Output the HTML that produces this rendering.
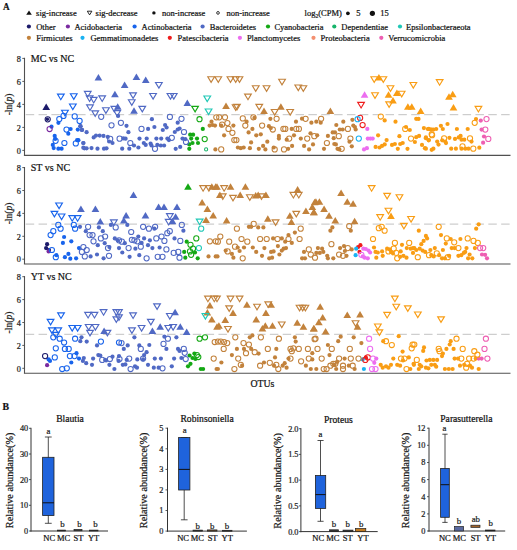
<!DOCTYPE html>
<html><head><meta charset="utf-8"><style>
html,body{margin:0;padding:0;background:#fff;}
body{width:517px;height:550px;overflow:hidden;font-family:"Liberation Serif",serif;}
svg{display:block;}
</style></head><body>
<svg width="517" height="550" viewBox="0 0 517 550">
<rect width="517" height="550" fill="#fff"/>
<g transform="translate(3.1 9.80) scale(1 1.07)"><text x="0" y="0" font-family="Liberation Serif, serif" font-size="9.2" fill="#111" stroke="#111" stroke-width="0.22" font-weight="bold">A</text></g>
<path d="M29.0 10.4L31.8 14.7L26.2 14.7Z" fill="#111"/>
<g transform="translate(36.1 16.00) scale(1 1.07)"><text x="0" y="0" font-family="Liberation Serif, serif" font-size="8.5" fill="#111" stroke="#111" stroke-width="0.22" >sig-increase</text></g>
<path d="M87.3 11.2L91.9 11.2L89.6 14.9Z" fill="none" stroke="#111" stroke-width="0.9"/>
<g transform="translate(95.6 16.00) scale(1 1.07)"><text x="0" y="0" font-family="Liberation Serif, serif" font-size="8.5" fill="#111" stroke="#111" stroke-width="0.22" >sig-decrease</text></g>
<circle cx="153.9" cy="12.9" r="1.7" fill="#111"/>
<g transform="translate(162.0 16.00) scale(1 1.07)"><text x="0" y="0" font-family="Liberation Serif, serif" font-size="8.5" fill="#111" stroke="#111" stroke-width="0.22" >non-increase</text></g>
<circle cx="218.0" cy="12.9" r="1.35" fill="none" stroke="#111" stroke-width="0.85"/>
<g transform="translate(226.4 16.00) scale(1 1.07)"><text x="0" y="0" font-family="Liberation Serif, serif" font-size="8.5" fill="#111" stroke="#111" stroke-width="0.22" >non-increase</text></g>
<g transform="translate(304.6 16.00) scale(1 1.07)"><text x="0" y="0" font-family="Liberation Serif, serif" font-size="8.5" fill="#111" stroke="#111" stroke-width="0.22" >log<tspan font-size="5.6" dy="2.2">2</tspan><tspan dy="-2.2">(CPM)</tspan></text></g>
<circle cx="347.9" cy="13.3" r="1.85" fill="#111"/>
<g transform="translate(356.3 16.00) scale(1 1.07)"><text x="0" y="0" font-family="Liberation Serif, serif" font-size="8.5" fill="#111" stroke="#111" stroke-width="0.22" >5</text></g>
<circle cx="372.4" cy="13.3" r="2.6" fill="#111"/>
<g transform="translate(380.2 16.00) scale(1 1.07)"><text x="0" y="0" font-family="Liberation Serif, serif" font-size="8.5" fill="#111" stroke="#111" stroke-width="0.22" >15</text></g>
<circle cx="28.9" cy="26.5" r="2.1" fill="#1c1a6a"/>
<g transform="translate(36.2 29.60) scale(1 1.07)"><text x="0" y="0" font-family="Liberation Serif, serif" font-size="8.5" fill="#111" stroke="#111" stroke-width="0.22" >Other</text></g>
<circle cx="67.9" cy="26.5" r="2.1" fill="#7a2aa0"/>
<g transform="translate(74.4 29.60) scale(1 1.07)"><text x="0" y="0" font-family="Liberation Serif, serif" font-size="8.5" fill="#111" stroke="#111" stroke-width="0.22" >Acidobacteria</text></g>
<circle cx="134.6" cy="26.5" r="2.1" fill="#1864ec"/>
<g transform="translate(141.6 29.60) scale(1 1.07)"><text x="0" y="0" font-family="Liberation Serif, serif" font-size="8.5" fill="#111" stroke="#111" stroke-width="0.22" >Actinobacteria</text></g>
<circle cx="202.6" cy="26.5" r="2.1" fill="#5069c4"/>
<g transform="translate(209.8 29.60) scale(1 1.07)"><text x="0" y="0" font-family="Liberation Serif, serif" font-size="8.5" fill="#111" stroke="#111" stroke-width="0.22" >Bacteroidetes</text></g>
<circle cx="268.0" cy="26.5" r="2.1" fill="#14a814"/>
<g transform="translate(274.4 29.60) scale(1 1.07)"><text x="0" y="0" font-family="Liberation Serif, serif" font-size="8.5" fill="#111" stroke="#111" stroke-width="0.22" >Cyanobacteria</text></g>
<circle cx="334.3" cy="26.5" r="2.1" fill="#16b46a"/>
<g transform="translate(341.3 29.60) scale(1 1.07)"><text x="0" y="0" font-family="Liberation Serif, serif" font-size="8.5" fill="#111" stroke="#111" stroke-width="0.22" >Dependentiae</text></g>
<circle cx="400.0" cy="26.5" r="2.1" fill="#20c8b6"/>
<g transform="translate(406.0 29.60) scale(1 1.07)"><text x="0" y="0" font-family="Liberation Serif, serif" font-size="8.5" fill="#111" stroke="#111" stroke-width="0.22" >Epsilonbacteraeota</text></g>
<circle cx="28.9" cy="37.8" r="2.1" fill="#c2823c"/>
<g transform="translate(36.2 40.90) scale(1 1.07)"><text x="0" y="0" font-family="Liberation Serif, serif" font-size="8.5" fill="#111" stroke="#111" stroke-width="0.22" >Firmicutes</text></g>
<circle cx="82.5" cy="37.8" r="2.1" fill="#1ab2f2"/>
<g transform="translate(90.4 40.90) scale(1 1.07)"><text x="0" y="0" font-family="Liberation Serif, serif" font-size="8.5" fill="#111" stroke="#111" stroke-width="0.22" >Gemmatimonadetes</text></g>
<circle cx="169.8" cy="37.8" r="2.1" fill="#ee1c1c"/>
<g transform="translate(177.6 40.90) scale(1 1.07)"><text x="0" y="0" font-family="Liberation Serif, serif" font-size="8.5" fill="#111" stroke="#111" stroke-width="0.22" >Patescibacteria</text></g>
<circle cx="239.9" cy="37.8" r="2.1" fill="#ec6ef0"/>
<g transform="translate(246.9 40.90) scale(1 1.07)"><text x="0" y="0" font-family="Liberation Serif, serif" font-size="8.5" fill="#111" stroke="#111" stroke-width="0.22" >Planctomycetes</text></g>
<circle cx="313.5" cy="37.8" r="2.1" fill="#f49070"/>
<g transform="translate(320.6 40.90) scale(1 1.07)"><text x="0" y="0" font-family="Liberation Serif, serif" font-size="8.5" fill="#111" stroke="#111" stroke-width="0.22" >Proteobacteria</text></g>
<circle cx="381.3" cy="37.8" r="2.1" fill="#ee5fb2"/>
<g transform="translate(388.2 40.90) scale(1 1.07)"><text x="0" y="0" font-family="Liberation Serif, serif" font-size="8.5" fill="#111" stroke="#111" stroke-width="0.22" >Verrucomicrobia</text></g>
<line x1="24.5" y1="57.8" x2="24.5" y2="155.4" stroke="#505050" stroke-width="1.1"/>
<line x1="23.9" y1="155.4" x2="510.5" y2="155.4" stroke="#505050" stroke-width="1.1"/>
<line x1="22.3" y1="150.4" x2="24.5" y2="150.4" stroke="#4a4a4a" stroke-width="0.9"/>
<text x="20.9" y="153.6" font-family="Liberation Serif, serif" font-size="8.3" fill="#1a1a1a" stroke="#1a1a1a" stroke-width="0.22" text-anchor="end">0</text>
<line x1="22.3" y1="127.4" x2="24.5" y2="127.4" stroke="#4a4a4a" stroke-width="0.9"/>
<text x="20.9" y="130.6" font-family="Liberation Serif, serif" font-size="8.3" fill="#1a1a1a" stroke="#1a1a1a" stroke-width="0.22" text-anchor="end">2</text>
<line x1="22.3" y1="104.4" x2="24.5" y2="104.4" stroke="#4a4a4a" stroke-width="0.9"/>
<text x="20.9" y="107.6" font-family="Liberation Serif, serif" font-size="8.3" fill="#1a1a1a" stroke="#1a1a1a" stroke-width="0.22" text-anchor="end">4</text>
<line x1="22.3" y1="81.4" x2="24.5" y2="81.4" stroke="#4a4a4a" stroke-width="0.9"/>
<text x="20.9" y="84.6" font-family="Liberation Serif, serif" font-size="8.3" fill="#1a1a1a" stroke="#1a1a1a" stroke-width="0.22" text-anchor="end">6</text>
<line x1="22.3" y1="58.4" x2="24.5" y2="58.4" stroke="#4a4a4a" stroke-width="0.9"/>
<text x="20.9" y="61.6" font-family="Liberation Serif, serif" font-size="8.3" fill="#1a1a1a" stroke="#1a1a1a" stroke-width="0.22" text-anchor="end">8</text>
<line x1="25.7" y1="114.7" x2="510" y2="114.7" stroke="#c2c2c2" stroke-width="1.0" stroke-dasharray="8.5,4.35"/>
<text x="30.8" y="61.9" font-family="Liberation Serif, serif" font-size="10" fill="#111" stroke="#111" stroke-width="0.22">MC vs NC</text>
<text transform="translate(12.2 104.4) rotate(-90)" font-family="Liberation Serif, serif" font-size="9.6" fill="#222" stroke="#222" stroke-width="0.22" text-anchor="middle">-ln(<tspan font-style="italic">p</tspan>)</text>
<line x1="24.5" y1="167.0" x2="24.5" y2="264.0" stroke="#505050" stroke-width="1.1"/>
<line x1="23.9" y1="264.0" x2="510.5" y2="264.0" stroke="#505050" stroke-width="1.1"/>
<line x1="22.3" y1="259.2" x2="24.5" y2="259.2" stroke="#4a4a4a" stroke-width="0.9"/>
<text x="20.9" y="262.4" font-family="Liberation Serif, serif" font-size="8.3" fill="#1a1a1a" stroke="#1a1a1a" stroke-width="0.22" text-anchor="end">0</text>
<line x1="22.3" y1="236.3" x2="24.5" y2="236.3" stroke="#4a4a4a" stroke-width="0.9"/>
<text x="20.9" y="239.5" font-family="Liberation Serif, serif" font-size="8.3" fill="#1a1a1a" stroke="#1a1a1a" stroke-width="0.22" text-anchor="end">2</text>
<line x1="22.3" y1="213.4" x2="24.5" y2="213.4" stroke="#4a4a4a" stroke-width="0.9"/>
<text x="20.9" y="216.6" font-family="Liberation Serif, serif" font-size="8.3" fill="#1a1a1a" stroke="#1a1a1a" stroke-width="0.22" text-anchor="end">4</text>
<line x1="22.3" y1="190.5" x2="24.5" y2="190.5" stroke="#4a4a4a" stroke-width="0.9"/>
<text x="20.9" y="193.7" font-family="Liberation Serif, serif" font-size="8.3" fill="#1a1a1a" stroke="#1a1a1a" stroke-width="0.22" text-anchor="end">6</text>
<line x1="22.3" y1="167.6" x2="24.5" y2="167.6" stroke="#4a4a4a" stroke-width="0.9"/>
<text x="20.9" y="170.8" font-family="Liberation Serif, serif" font-size="8.3" fill="#1a1a1a" stroke="#1a1a1a" stroke-width="0.22" text-anchor="end">8</text>
<line x1="25.7" y1="224.1" x2="510" y2="224.1" stroke="#c2c2c2" stroke-width="1.0" stroke-dasharray="8.5,4.35"/>
<text x="30.8" y="171.1" font-family="Liberation Serif, serif" font-size="10" fill="#111" stroke="#111" stroke-width="0.22">ST vs NC</text>
<text transform="translate(12.2 213.4) rotate(-90)" font-family="Liberation Serif, serif" font-size="9.6" fill="#222" stroke="#222" stroke-width="0.22" text-anchor="middle">-ln(<tspan font-style="italic">p</tspan>)</text>
<line x1="24.5" y1="276.1" x2="24.5" y2="373.3" stroke="#505050" stroke-width="1.1"/>
<line x1="23.9" y1="373.3" x2="510.5" y2="373.3" stroke="#505050" stroke-width="1.1"/>
<line x1="22.3" y1="368.3" x2="24.5" y2="368.3" stroke="#4a4a4a" stroke-width="0.9"/>
<text x="20.9" y="371.5" font-family="Liberation Serif, serif" font-size="8.3" fill="#1a1a1a" stroke="#1a1a1a" stroke-width="0.22" text-anchor="end">0</text>
<line x1="22.3" y1="345.4" x2="24.5" y2="345.4" stroke="#4a4a4a" stroke-width="0.9"/>
<text x="20.9" y="348.6" font-family="Liberation Serif, serif" font-size="8.3" fill="#1a1a1a" stroke="#1a1a1a" stroke-width="0.22" text-anchor="end">2</text>
<line x1="22.3" y1="322.5" x2="24.5" y2="322.5" stroke="#4a4a4a" stroke-width="0.9"/>
<text x="20.9" y="325.7" font-family="Liberation Serif, serif" font-size="8.3" fill="#1a1a1a" stroke="#1a1a1a" stroke-width="0.22" text-anchor="end">4</text>
<line x1="22.3" y1="299.6" x2="24.5" y2="299.6" stroke="#4a4a4a" stroke-width="0.9"/>
<text x="20.9" y="302.8" font-family="Liberation Serif, serif" font-size="8.3" fill="#1a1a1a" stroke="#1a1a1a" stroke-width="0.22" text-anchor="end">6</text>
<line x1="22.3" y1="276.7" x2="24.5" y2="276.7" stroke="#4a4a4a" stroke-width="0.9"/>
<text x="20.9" y="279.9" font-family="Liberation Serif, serif" font-size="8.3" fill="#1a1a1a" stroke="#1a1a1a" stroke-width="0.22" text-anchor="end">8</text>
<line x1="25.7" y1="334.3" x2="510" y2="334.3" stroke="#c2c2c2" stroke-width="1.0" stroke-dasharray="8.5,4.35"/>
<text x="30.8" y="280.2" font-family="Liberation Serif, serif" font-size="10" fill="#111" stroke="#111" stroke-width="0.22">YT vs NC</text>
<text transform="translate(12.2 322.5) rotate(-90)" font-family="Liberation Serif, serif" font-size="9.6" fill="#222" stroke="#222" stroke-width="0.22" text-anchor="middle">-ln(<tspan font-style="italic">p</tspan>)</text>
<g>
<circle cx="47.4" cy="119.3" r="1.68" fill="#1c1a6a"/>
<circle cx="51.5" cy="126.7" r="2.10" fill="#1864ec"/>
<circle cx="58.4" cy="122.8" r="2.10" fill="#1864ec"/>
<circle cx="70.6" cy="129.0" r="2.10" fill="#1864ec"/>
<circle cx="68.3" cy="133.7" r="2.10" fill="#1864ec"/>
<circle cx="54.7" cy="135.9" r="2.10" fill="#1864ec"/>
<circle cx="55.2" cy="138.9" r="2.10" fill="#1864ec"/>
<circle cx="77.1" cy="140.2" r="2.10" fill="#1864ec"/>
<circle cx="52.8" cy="144.9" r="2.10" fill="#1864ec"/>
<circle cx="53.7" cy="148.1" r="2.10" fill="#1864ec"/>
<circle cx="58.4" cy="148.7" r="2.10" fill="#1864ec"/>
<circle cx="61.6" cy="148.7" r="2.10" fill="#1864ec"/>
<circle cx="80.3" cy="126.2" r="2.10" fill="#5069c4"/>
<circle cx="81.8" cy="129.9" r="2.10" fill="#5069c4"/>
<circle cx="83.3" cy="143.0" r="2.10" fill="#5069c4"/>
<circle cx="83.3" cy="147.7" r="2.10" fill="#5069c4"/>
<circle cx="80.6" cy="126.2" r="2.10" fill="#5069c4"/>
<circle cx="82.1" cy="129.9" r="2.10" fill="#5069c4"/>
<circle cx="86.6" cy="132.2" r="2.10" fill="#5069c4"/>
<circle cx="93.7" cy="137.4" r="2.10" fill="#5069c4"/>
<circle cx="96.0" cy="135.6" r="2.10" fill="#5069c4"/>
<circle cx="99.7" cy="135.6" r="2.10" fill="#5069c4"/>
<circle cx="103.5" cy="135.9" r="2.10" fill="#5069c4"/>
<circle cx="107.8" cy="136.9" r="2.10" fill="#5069c4"/>
<circle cx="109.1" cy="141.5" r="2.10" fill="#5069c4"/>
<circle cx="112.5" cy="143.0" r="2.10" fill="#5069c4"/>
<circle cx="83.4" cy="143.0" r="2.10" fill="#5069c4"/>
<circle cx="84.4" cy="148.3" r="2.10" fill="#5069c4"/>
<circle cx="86.6" cy="148.3" r="2.10" fill="#5069c4"/>
<circle cx="91.5" cy="148.1" r="2.10" fill="#5069c4"/>
<circle cx="97.5" cy="148.7" r="2.10" fill="#5069c4"/>
<circle cx="104.0" cy="148.7" r="2.10" fill="#5069c4"/>
<circle cx="106.5" cy="148.3" r="2.10" fill="#5069c4"/>
<circle cx="126.5" cy="125.8" r="2.10" fill="#5069c4"/>
<circle cx="128.4" cy="132.2" r="2.10" fill="#5069c4"/>
<circle cx="123.3" cy="138.4" r="2.10" fill="#5069c4"/>
<circle cx="125.6" cy="138.7" r="2.10" fill="#5069c4"/>
<circle cx="122.2" cy="148.7" r="2.10" fill="#5069c4"/>
<circle cx="129.3" cy="148.7" r="2.10" fill="#5069c4"/>
<circle cx="134.0" cy="145.5" r="2.10" fill="#5069c4"/>
<circle cx="118.1" cy="115.9" r="2.10" fill="#5069c4"/>
<circle cx="77.8" cy="129.6" r="2.10" fill="#1864ec"/>
<circle cx="78.4" cy="140.2" r="2.10" fill="#1864ec"/>
<circle cx="151.9" cy="119.2" r="2.10" fill="#5069c4"/>
<circle cx="148.1" cy="128.9" r="2.10" fill="#5069c4"/>
<circle cx="154.4" cy="127.0" r="2.10" fill="#5069c4"/>
<circle cx="165.1" cy="125.0" r="2.10" fill="#5069c4"/>
<circle cx="166.6" cy="127.5" r="2.10" fill="#5069c4"/>
<circle cx="162.8" cy="130.0" r="2.10" fill="#5069c4"/>
<circle cx="174.8" cy="132.0" r="2.10" fill="#5069c4"/>
<circle cx="177.7" cy="129.5" r="2.10" fill="#5069c4"/>
<circle cx="179.6" cy="128.5" r="2.10" fill="#5069c4"/>
<circle cx="177.7" cy="122.7" r="2.10" fill="#5069c4"/>
<circle cx="139.5" cy="138.6" r="2.10" fill="#5069c4"/>
<circle cx="146.7" cy="138.6" r="2.10" fill="#5069c4"/>
<circle cx="156.4" cy="138.6" r="2.10" fill="#5069c4"/>
<circle cx="161.2" cy="138.6" r="2.10" fill="#5069c4"/>
<circle cx="167.4" cy="138.6" r="2.10" fill="#5069c4"/>
<circle cx="168.9" cy="140.1" r="2.10" fill="#5069c4"/>
<circle cx="182.5" cy="138.6" r="2.10" fill="#5069c4"/>
<circle cx="185.4" cy="139.1" r="2.10" fill="#5069c4"/>
<circle cx="143.8" cy="143.0" r="2.10" fill="#5069c4"/>
<circle cx="145.7" cy="144.9" r="2.10" fill="#5069c4"/>
<circle cx="150.6" cy="143.6" r="2.10" fill="#5069c4"/>
<circle cx="151.5" cy="145.5" r="2.10" fill="#5069c4"/>
<circle cx="157.3" cy="144.9" r="2.10" fill="#5069c4"/>
<circle cx="160.8" cy="145.5" r="2.10" fill="#5069c4"/>
<circle cx="164.1" cy="145.5" r="2.10" fill="#5069c4"/>
<circle cx="175.7" cy="148.8" r="2.10" fill="#5069c4"/>
<circle cx="180.2" cy="146.9" r="2.10" fill="#5069c4"/>
<circle cx="138.4" cy="147.5" r="2.10" fill="#5069c4"/>
<circle cx="202.8" cy="128.9" r="2.10" fill="#14a814"/>
<circle cx="190.2" cy="134.7" r="2.10" fill="#14a814"/>
<circle cx="193.1" cy="134.7" r="2.10" fill="#14a814"/>
<circle cx="197.0" cy="138.6" r="2.10" fill="#14a814"/>
<circle cx="191.2" cy="138.6" r="2.10" fill="#14a814"/>
<circle cx="189.3" cy="144.4" r="2.10" fill="#14a814"/>
<circle cx="192.5" cy="143.0" r="2.10" fill="#14a814"/>
<circle cx="198.0" cy="143.0" r="2.10" fill="#14a814"/>
<circle cx="189.3" cy="148.8" r="2.10" fill="#14a814"/>
<circle cx="211.5" cy="121.7" r="2.10" fill="#c2823c"/>
<circle cx="209.6" cy="125.6" r="2.10" fill="#c2823c"/>
<circle cx="212.5" cy="125.0" r="2.10" fill="#c2823c"/>
<circle cx="215.0" cy="125.6" r="2.10" fill="#c2823c"/>
<circle cx="221.2" cy="125.6" r="2.10" fill="#c2823c"/>
<circle cx="233.4" cy="125.6" r="2.10" fill="#c2823c"/>
<circle cx="224.1" cy="135.3" r="2.10" fill="#c2823c"/>
<circle cx="215.4" cy="149.4" r="2.10" fill="#c2823c"/>
<circle cx="246.6" cy="121.7" r="2.10" fill="#c2823c"/>
<circle cx="254.4" cy="117.9" r="2.10" fill="#c2823c"/>
<circle cx="270.4" cy="118.8" r="2.10" fill="#c2823c"/>
<circle cx="252.4" cy="128.9" r="2.10" fill="#c2823c"/>
<circle cx="248.6" cy="132.4" r="2.10" fill="#c2823c"/>
<circle cx="256.3" cy="135.3" r="2.10" fill="#c2823c"/>
<circle cx="260.8" cy="134.3" r="2.10" fill="#c2823c"/>
<circle cx="268.9" cy="126.2" r="2.10" fill="#c2823c"/>
<circle cx="270.8" cy="128.1" r="2.10" fill="#c2823c"/>
<circle cx="291.7" cy="128.9" r="2.10" fill="#c2823c"/>
<circle cx="296.0" cy="121.7" r="2.10" fill="#c2823c"/>
<circle cx="311.4" cy="122.7" r="2.10" fill="#c2823c"/>
<circle cx="316.3" cy="121.7" r="2.10" fill="#c2823c"/>
<circle cx="320.7" cy="122.7" r="2.10" fill="#c2823c"/>
<circle cx="278.9" cy="135.9" r="2.10" fill="#c2823c"/>
<circle cx="278.9" cy="138.6" r="2.10" fill="#c2823c"/>
<circle cx="286.7" cy="139.7" r="2.10" fill="#c2823c"/>
<circle cx="294.0" cy="135.3" r="2.10" fill="#c2823c"/>
<circle cx="300.8" cy="138.6" r="2.10" fill="#c2823c"/>
<circle cx="310.5" cy="133.3" r="2.10" fill="#c2823c"/>
<circle cx="317.2" cy="135.3" r="2.10" fill="#c2823c"/>
<circle cx="327.9" cy="135.9" r="2.10" fill="#c2823c"/>
<circle cx="332.7" cy="132.4" r="2.10" fill="#c2823c"/>
<circle cx="333.7" cy="138.2" r="2.10" fill="#c2823c"/>
<circle cx="267.3" cy="141.7" r="2.10" fill="#c2823c"/>
<circle cx="251.1" cy="142.4" r="2.10" fill="#c2823c"/>
<circle cx="237.9" cy="147.5" r="2.10" fill="#c2823c"/>
<circle cx="240.8" cy="148.2" r="2.10" fill="#c2823c"/>
<circle cx="243.7" cy="147.5" r="2.10" fill="#c2823c"/>
<circle cx="249.9" cy="148.2" r="2.10" fill="#c2823c"/>
<circle cx="258.8" cy="148.8" r="2.10" fill="#c2823c"/>
<circle cx="263.1" cy="145.9" r="2.10" fill="#c2823c"/>
<circle cx="265.4" cy="149.4" r="2.10" fill="#c2823c"/>
<circle cx="273.7" cy="147.5" r="2.10" fill="#c2823c"/>
<circle cx="288.2" cy="148.8" r="2.10" fill="#c2823c"/>
<circle cx="292.1" cy="145.9" r="2.10" fill="#c2823c"/>
<circle cx="304.1" cy="145.9" r="2.10" fill="#c2823c"/>
<circle cx="309.1" cy="149.4" r="2.10" fill="#c2823c"/>
<circle cx="313.0" cy="144.4" r="2.10" fill="#c2823c"/>
<circle cx="324.0" cy="148.8" r="2.10" fill="#c2823c"/>
<circle cx="334.3" cy="144.0" r="2.10" fill="#c2823c"/>
<circle cx="367.3" cy="128.9" r="2.10" fill="#ec6ef0"/>
<circle cx="367.8" cy="138.6" r="2.10" fill="#ec6ef0"/>
<circle cx="370.4" cy="138.6" r="2.10" fill="#ec6ef0"/>
<circle cx="372.7" cy="138.6" r="2.10" fill="#ec6ef0"/>
<circle cx="364.0" cy="149.4" r="2.10" fill="#ec6ef0"/>
<circle cx="366.9" cy="148.2" r="2.10" fill="#ec6ef0"/>
<circle cx="384.7" cy="120.4" r="2.10" fill="#f99d14"/>
<circle cx="395.5" cy="121.7" r="2.10" fill="#f99d14"/>
<circle cx="416.2" cy="118.8" r="2.10" fill="#f99d14"/>
<circle cx="378.1" cy="135.3" r="2.10" fill="#f99d14"/>
<circle cx="399.4" cy="136.2" r="2.10" fill="#f99d14"/>
<circle cx="406.0" cy="127.0" r="2.10" fill="#f99d14"/>
<circle cx="409.8" cy="130.0" r="2.10" fill="#f99d14"/>
<circle cx="423.9" cy="128.1" r="2.10" fill="#f99d14"/>
<circle cx="428.8" cy="128.9" r="2.10" fill="#f99d14"/>
<circle cx="431.7" cy="129.5" r="2.10" fill="#f99d14"/>
<circle cx="386.6" cy="140.1" r="2.10" fill="#f99d14"/>
<circle cx="384.7" cy="144.4" r="2.10" fill="#f99d14"/>
<circle cx="382.0" cy="145.9" r="2.10" fill="#f99d14"/>
<circle cx="375.6" cy="146.9" r="2.10" fill="#f99d14"/>
<circle cx="379.5" cy="147.5" r="2.10" fill="#f99d14"/>
<circle cx="392.0" cy="144.9" r="2.10" fill="#f99d14"/>
<circle cx="394.9" cy="144.0" r="2.10" fill="#f99d14"/>
<circle cx="400.2" cy="144.0" r="2.10" fill="#f99d14"/>
<circle cx="402.7" cy="143.0" r="2.10" fill="#f99d14"/>
<circle cx="397.8" cy="148.8" r="2.10" fill="#f99d14"/>
<circle cx="407.5" cy="148.8" r="2.10" fill="#f99d14"/>
<circle cx="419.1" cy="135.9" r="2.10" fill="#f99d14"/>
<circle cx="416.2" cy="137.2" r="2.10" fill="#f99d14"/>
<circle cx="414.9" cy="142.0" r="2.10" fill="#f99d14"/>
<circle cx="425.9" cy="138.2" r="2.10" fill="#f99d14"/>
<circle cx="428.8" cy="140.1" r="2.10" fill="#f99d14"/>
<circle cx="422.0" cy="144.9" r="2.10" fill="#f99d14"/>
<circle cx="424.9" cy="148.2" r="2.10" fill="#f99d14"/>
<circle cx="431.7" cy="149.8" r="2.10" fill="#f99d14"/>
<circle cx="336.3" cy="125.0" r="2.10" fill="#c2823c"/>
<circle cx="343.3" cy="121.7" r="2.10" fill="#c2823c"/>
<circle cx="352.4" cy="119.8" r="2.10" fill="#c2823c"/>
<circle cx="339.8" cy="129.5" r="2.10" fill="#c2823c"/>
<circle cx="342.7" cy="129.5" r="2.10" fill="#c2823c"/>
<circle cx="353.3" cy="125.6" r="2.10" fill="#c2823c"/>
<circle cx="354.9" cy="127.0" r="2.10" fill="#c2823c"/>
<circle cx="355.7" cy="129.5" r="2.10" fill="#c2823c"/>
<circle cx="335.0" cy="132.4" r="2.10" fill="#c2823c"/>
<circle cx="349.5" cy="141.7" r="2.10" fill="#c2823c"/>
<circle cx="351.8" cy="146.3" r="2.10" fill="#c2823c"/>
<circle cx="335.9" cy="144.4" r="2.10" fill="#c2823c"/>
<circle cx="337.5" cy="148.8" r="2.10" fill="#c2823c"/>
<circle cx="339.4" cy="149.4" r="2.10" fill="#c2823c"/>
<circle cx="476.0" cy="119.1" r="2.10" fill="#f99d14"/>
<circle cx="440.9" cy="125.8" r="2.10" fill="#f99d14"/>
<circle cx="447.5" cy="124.0" r="2.10" fill="#f99d14"/>
<circle cx="442.8" cy="129.0" r="2.10" fill="#f99d14"/>
<circle cx="427.8" cy="129.0" r="2.10" fill="#f99d14"/>
<circle cx="430.6" cy="129.6" r="2.10" fill="#f99d14"/>
<circle cx="433.4" cy="129.6" r="2.10" fill="#f99d14"/>
<circle cx="436.2" cy="129.0" r="2.10" fill="#f99d14"/>
<circle cx="456.9" cy="129.0" r="2.10" fill="#f99d14"/>
<circle cx="467.7" cy="129.0" r="2.10" fill="#f99d14"/>
<circle cx="425.9" cy="137.4" r="2.10" fill="#f99d14"/>
<circle cx="428.7" cy="140.3" r="2.10" fill="#f99d14"/>
<circle cx="437.2" cy="141.6" r="2.10" fill="#f99d14"/>
<circle cx="438.5" cy="144.6" r="2.10" fill="#f99d14"/>
<circle cx="442.2" cy="140.3" r="2.10" fill="#f99d14"/>
<circle cx="445.2" cy="141.6" r="2.10" fill="#f99d14"/>
<circle cx="446.0" cy="143.1" r="2.10" fill="#f99d14"/>
<circle cx="449.4" cy="137.8" r="2.10" fill="#f99d14"/>
<circle cx="455.0" cy="138.9" r="2.10" fill="#f99d14"/>
<circle cx="458.7" cy="137.4" r="2.10" fill="#f99d14"/>
<circle cx="460.6" cy="135.9" r="2.10" fill="#f99d14"/>
<circle cx="461.5" cy="139.7" r="2.10" fill="#f99d14"/>
<circle cx="464.3" cy="139.7" r="2.10" fill="#f99d14"/>
<circle cx="471.5" cy="141.6" r="2.10" fill="#f99d14"/>
<circle cx="425.9" cy="148.7" r="2.10" fill="#f99d14"/>
<circle cx="433.4" cy="148.7" r="2.10" fill="#f99d14"/>
<circle cx="451.2" cy="148.7" r="2.10" fill="#f99d14"/>
<circle cx="455.9" cy="148.7" r="2.10" fill="#f99d14"/>
<circle cx="461.5" cy="148.7" r="2.10" fill="#f99d14"/>
<circle cx="465.3" cy="148.7" r="2.10" fill="#f99d14"/>
<circle cx="468.5" cy="148.7" r="2.10" fill="#f99d14"/>
<circle cx="479.3" cy="147.7" r="2.10" fill="#f99d14"/>
<circle cx="480.8" cy="120.6" r="2.10" fill="#ee5fb2"/>
<circle cx="481.6" cy="129.6" r="2.10" fill="#ee5fb2"/>
<circle cx="484.0" cy="136.5" r="2.10" fill="#ee5fb2"/>
<circle cx="483.1" cy="142.7" r="2.10" fill="#ee5fb2"/>
<circle cx="47.1" cy="244.2" r="2.10" fill="#1c1a6a"/>
<circle cx="46.1" cy="248.1" r="2.10" fill="#1c1a6a"/>
<circle cx="49.0" cy="250.0" r="2.10" fill="#1c1a6a"/>
<circle cx="48.6" cy="251.4" r="2.10" fill="#7a2aa0"/>
<circle cx="64.1" cy="237.0" r="2.10" fill="#1864ec"/>
<circle cx="62.9" cy="242.9" r="2.10" fill="#1864ec"/>
<circle cx="71.3" cy="241.3" r="2.10" fill="#1864ec"/>
<circle cx="56.4" cy="255.2" r="2.10" fill="#1864ec"/>
<circle cx="64.9" cy="257.2" r="2.10" fill="#1864ec"/>
<circle cx="68.4" cy="253.9" r="2.10" fill="#1864ec"/>
<circle cx="70.3" cy="258.7" r="2.10" fill="#1864ec"/>
<circle cx="76.1" cy="258.3" r="2.10" fill="#1864ec"/>
<circle cx="79.0" cy="248.1" r="2.10" fill="#1864ec"/>
<circle cx="80.0" cy="226.8" r="2.10" fill="#5069c4"/>
<circle cx="85.8" cy="231.2" r="2.10" fill="#5069c4"/>
<circle cx="98.9" cy="227.4" r="2.10" fill="#5069c4"/>
<circle cx="102.8" cy="231.2" r="2.10" fill="#5069c4"/>
<circle cx="110.9" cy="224.9" r="2.10" fill="#5069c4"/>
<circle cx="97.8" cy="245.2" r="2.10" fill="#5069c4"/>
<circle cx="104.7" cy="243.2" r="2.10" fill="#5069c4"/>
<circle cx="114.8" cy="238.4" r="2.10" fill="#5069c4"/>
<circle cx="117.7" cy="240.3" r="2.10" fill="#5069c4"/>
<circle cx="90.6" cy="256.4" r="2.10" fill="#5069c4"/>
<circle cx="97.0" cy="254.5" r="2.10" fill="#5069c4"/>
<circle cx="103.6" cy="258.3" r="2.10" fill="#5069c4"/>
<circle cx="109.4" cy="247.1" r="2.10" fill="#5069c4"/>
<circle cx="186.7" cy="241.7" r="2.10" fill="#14a814"/>
<circle cx="184.2" cy="251.9" r="2.10" fill="#14a814"/>
<circle cx="195.0" cy="252.5" r="2.10" fill="#14a814"/>
<circle cx="185.3" cy="257.7" r="2.10" fill="#14a814"/>
<circle cx="197.7" cy="258.3" r="2.10" fill="#14a814"/>
<circle cx="208.5" cy="256.4" r="2.10" fill="#c2823c"/>
<circle cx="215.7" cy="256.4" r="2.10" fill="#c2823c"/>
<circle cx="127.3" cy="224.9" r="2.10" fill="#5069c4"/>
<circle cx="154.4" cy="228.7" r="2.10" fill="#5069c4"/>
<circle cx="138.3" cy="236.5" r="2.10" fill="#5069c4"/>
<circle cx="144.1" cy="238.4" r="2.10" fill="#5069c4"/>
<circle cx="149.9" cy="240.3" r="2.10" fill="#5069c4"/>
<circle cx="141.6" cy="242.9" r="2.10" fill="#5069c4"/>
<circle cx="148.0" cy="245.2" r="2.10" fill="#5069c4"/>
<circle cx="124.8" cy="243.2" r="2.10" fill="#5069c4"/>
<circle cx="119.0" cy="248.1" r="2.10" fill="#5069c4"/>
<circle cx="122.3" cy="252.5" r="2.10" fill="#5069c4"/>
<circle cx="135.4" cy="248.7" r="2.10" fill="#5069c4"/>
<circle cx="152.4" cy="248.1" r="2.10" fill="#5069c4"/>
<circle cx="159.6" cy="247.5" r="2.10" fill="#5069c4"/>
<circle cx="174.5" cy="238.4" r="2.10" fill="#5069c4"/>
<circle cx="183.4" cy="230.7" r="2.10" fill="#5069c4"/>
<circle cx="129.6" cy="256.8" r="2.10" fill="#5069c4"/>
<circle cx="139.3" cy="255.2" r="2.10" fill="#5069c4"/>
<circle cx="248.9" cy="226.8" r="2.10" fill="#c2823c"/>
<circle cx="251.2" cy="226.8" r="2.10" fill="#c2823c"/>
<circle cx="258.2" cy="227.4" r="2.10" fill="#c2823c"/>
<circle cx="263.4" cy="227.4" r="2.10" fill="#c2823c"/>
<circle cx="237.7" cy="247.5" r="2.10" fill="#c2823c"/>
<circle cx="244.0" cy="247.5" r="2.10" fill="#c2823c"/>
<circle cx="252.8" cy="247.5" r="2.10" fill="#c2823c"/>
<circle cx="239.6" cy="251.0" r="2.10" fill="#c2823c"/>
<circle cx="231.9" cy="253.9" r="2.10" fill="#c2823c"/>
<circle cx="233.4" cy="257.7" r="2.10" fill="#c2823c"/>
<circle cx="225.7" cy="250.6" r="2.10" fill="#c2823c"/>
<circle cx="217.5" cy="256.4" r="2.10" fill="#c2823c"/>
<circle cx="256.2" cy="251.9" r="2.10" fill="#c2823c"/>
<circle cx="262.0" cy="255.8" r="2.10" fill="#c2823c"/>
<circle cx="264.4" cy="248.1" r="2.10" fill="#c2823c"/>
<circle cx="271.1" cy="251.9" r="2.10" fill="#c2823c"/>
<circle cx="273.6" cy="251.4" r="2.10" fill="#c2823c"/>
<circle cx="277.9" cy="246.1" r="2.10" fill="#c2823c"/>
<circle cx="279.4" cy="254.5" r="2.10" fill="#c2823c"/>
<circle cx="269.2" cy="258.3" r="2.10" fill="#c2823c"/>
<circle cx="272.1" cy="257.7" r="2.10" fill="#c2823c"/>
<circle cx="281.8" cy="250.6" r="2.10" fill="#c2823c"/>
<circle cx="283.7" cy="248.7" r="2.10" fill="#c2823c"/>
<circle cx="286.0" cy="248.1" r="2.10" fill="#c2823c"/>
<circle cx="288.5" cy="235.1" r="2.10" fill="#c2823c"/>
<circle cx="294.9" cy="232.6" r="2.10" fill="#c2823c"/>
<circle cx="285.2" cy="241.7" r="2.10" fill="#c2823c"/>
<circle cx="291.8" cy="242.9" r="2.10" fill="#c2823c"/>
<circle cx="273.1" cy="238.4" r="2.10" fill="#c2823c"/>
<circle cx="281.8" cy="238.4" r="2.10" fill="#c2823c"/>
<circle cx="304.0" cy="251.9" r="2.10" fill="#c2823c"/>
<circle cx="302.1" cy="258.3" r="2.10" fill="#c2823c"/>
<circle cx="305.0" cy="258.3" r="2.10" fill="#c2823c"/>
<circle cx="332.4" cy="227.4" r="2.10" fill="#c2823c"/>
<circle cx="330.4" cy="230.7" r="2.10" fill="#c2823c"/>
<circle cx="350.8" cy="230.7" r="2.10" fill="#c2823c"/>
<circle cx="317.9" cy="248.1" r="2.10" fill="#c2823c"/>
<circle cx="322.1" cy="248.7" r="2.10" fill="#c2823c"/>
<circle cx="323.3" cy="251.9" r="2.10" fill="#c2823c"/>
<circle cx="319.8" cy="252.9" r="2.10" fill="#c2823c"/>
<circle cx="316.3" cy="252.9" r="2.10" fill="#c2823c"/>
<circle cx="327.2" cy="255.8" r="2.10" fill="#c2823c"/>
<circle cx="327.9" cy="258.3" r="2.10" fill="#c2823c"/>
<circle cx="333.3" cy="258.3" r="2.10" fill="#c2823c"/>
<circle cx="340.1" cy="248.1" r="2.10" fill="#c2823c"/>
<circle cx="344.0" cy="246.1" r="2.10" fill="#c2823c"/>
<circle cx="344.9" cy="251.0" r="2.10" fill="#c2823c"/>
<circle cx="346.5" cy="255.8" r="2.10" fill="#c2823c"/>
<circle cx="351.7" cy="249.4" r="2.10" fill="#c2823c"/>
<circle cx="358.1" cy="247.1" r="2.10" fill="#ee1c1c"/>
<circle cx="360.4" cy="245.2" r="2.10" fill="#ee1c1c"/>
<circle cx="359.5" cy="251.9" r="2.10" fill="#ee1c1c"/>
<circle cx="356.2" cy="248.7" r="2.10" fill="#1ab2f2"/>
<circle cx="355.6" cy="255.2" r="2.10" fill="#1ab2f2"/>
<circle cx="363.3" cy="248.7" r="2.10" fill="#ec6ef0"/>
<circle cx="365.8" cy="249.0" r="2.10" fill="#ec6ef0"/>
<circle cx="368.5" cy="250.6" r="2.10" fill="#ec6ef0"/>
<circle cx="370.1" cy="252.5" r="2.10" fill="#ec6ef0"/>
<circle cx="362.7" cy="256.4" r="2.10" fill="#ec6ef0"/>
<circle cx="364.7" cy="257.7" r="2.10" fill="#ec6ef0"/>
<circle cx="367.8" cy="258.3" r="2.10" fill="#ec6ef0"/>
<circle cx="374.0" cy="247.5" r="2.10" fill="#f99d14"/>
<circle cx="375.5" cy="251.9" r="2.10" fill="#f99d14"/>
<circle cx="377.8" cy="252.5" r="2.10" fill="#f99d14"/>
<circle cx="382.1" cy="251.4" r="2.10" fill="#f99d14"/>
<circle cx="382.7" cy="255.8" r="2.10" fill="#f99d14"/>
<circle cx="387.1" cy="248.7" r="2.10" fill="#f99d14"/>
<circle cx="389.8" cy="249.4" r="2.10" fill="#f99d14"/>
<circle cx="391.0" cy="251.9" r="2.10" fill="#f99d14"/>
<circle cx="392.9" cy="253.3" r="2.10" fill="#f99d14"/>
<circle cx="402.0" cy="244.8" r="2.10" fill="#f99d14"/>
<circle cx="406.8" cy="248.1" r="2.10" fill="#f99d14"/>
<circle cx="410.7" cy="248.7" r="2.10" fill="#f99d14"/>
<circle cx="413.0" cy="248.1" r="2.10" fill="#f99d14"/>
<circle cx="400.1" cy="256.8" r="2.10" fill="#f99d14"/>
<circle cx="403.4" cy="255.8" r="2.10" fill="#f99d14"/>
<circle cx="406.5" cy="257.7" r="2.10" fill="#f99d14"/>
<circle cx="376.3" cy="257.7" r="2.10" fill="#f99d14"/>
<circle cx="400.7" cy="251.4" r="2.10" fill="#f99d14"/>
<circle cx="478.7" cy="224.3" r="2.10" fill="#f99d14"/>
<circle cx="476.2" cy="228.7" r="2.10" fill="#f99d14"/>
<circle cx="418.8" cy="230.7" r="2.10" fill="#f99d14"/>
<circle cx="441.0" cy="235.1" r="2.10" fill="#f99d14"/>
<circle cx="425.9" cy="235.9" r="2.10" fill="#f99d14"/>
<circle cx="427.1" cy="238.4" r="2.10" fill="#f99d14"/>
<circle cx="423.6" cy="240.9" r="2.10" fill="#f99d14"/>
<circle cx="421.3" cy="244.2" r="2.10" fill="#f99d14"/>
<circle cx="450.7" cy="239.0" r="2.10" fill="#f99d14"/>
<circle cx="460.4" cy="239.0" r="2.10" fill="#f99d14"/>
<circle cx="445.8" cy="243.6" r="2.10" fill="#f99d14"/>
<circle cx="414.3" cy="248.1" r="2.10" fill="#f99d14"/>
<circle cx="416.3" cy="250.0" r="2.10" fill="#f99d14"/>
<circle cx="419.7" cy="248.7" r="2.10" fill="#f99d14"/>
<circle cx="422.6" cy="250.6" r="2.10" fill="#f99d14"/>
<circle cx="425.2" cy="251.9" r="2.10" fill="#f99d14"/>
<circle cx="430.4" cy="250.0" r="2.10" fill="#f99d14"/>
<circle cx="434.8" cy="248.1" r="2.10" fill="#f99d14"/>
<circle cx="442.9" cy="250.0" r="2.10" fill="#f99d14"/>
<circle cx="451.7" cy="248.1" r="2.10" fill="#f99d14"/>
<circle cx="454.6" cy="248.1" r="2.10" fill="#f99d14"/>
<circle cx="466.5" cy="248.1" r="2.10" fill="#f99d14"/>
<circle cx="474.9" cy="248.1" r="2.10" fill="#f99d14"/>
<circle cx="431.3" cy="255.2" r="2.10" fill="#f99d14"/>
<circle cx="433.7" cy="256.4" r="2.10" fill="#f99d14"/>
<circle cx="439.1" cy="255.2" r="2.10" fill="#f99d14"/>
<circle cx="442.0" cy="258.3" r="2.10" fill="#f99d14"/>
<circle cx="444.9" cy="258.3" r="2.10" fill="#f99d14"/>
<circle cx="449.1" cy="255.8" r="2.10" fill="#f99d14"/>
<circle cx="458.4" cy="255.8" r="2.10" fill="#f99d14"/>
<circle cx="461.3" cy="255.2" r="2.10" fill="#f99d14"/>
<circle cx="463.8" cy="252.9" r="2.10" fill="#f99d14"/>
<circle cx="465.2" cy="251.9" r="2.10" fill="#f99d14"/>
<circle cx="469.6" cy="254.5" r="2.10" fill="#f99d14"/>
<circle cx="468.1" cy="258.3" r="2.10" fill="#f99d14"/>
<circle cx="472.3" cy="258.3" r="2.10" fill="#f99d14"/>
<circle cx="413.0" cy="252.9" r="2.10" fill="#f99d14"/>
<circle cx="482.0" cy="254.5" r="2.10" fill="#ee5fb2"/>
<circle cx="485.1" cy="254.8" r="2.10" fill="#ee5fb2"/>
<circle cx="487.0" cy="258.3" r="2.10" fill="#ee5fb2"/>
<circle cx="48.6" cy="359.4" r="2.10" fill="#1864ec"/>
<circle cx="50.0" cy="360.9" r="2.10" fill="#1864ec"/>
<circle cx="47.1" cy="365.2" r="2.10" fill="#7a2aa0"/>
<circle cx="76.5" cy="353.2" r="2.10" fill="#1864ec"/>
<circle cx="79.0" cy="358.6" r="2.10" fill="#1864ec"/>
<circle cx="71.3" cy="362.5" r="2.10" fill="#1864ec"/>
<circle cx="81.5" cy="337.3" r="2.10" fill="#5069c4"/>
<circle cx="80.3" cy="341.2" r="2.10" fill="#5069c4"/>
<circle cx="86.7" cy="341.6" r="2.10" fill="#5069c4"/>
<circle cx="97.0" cy="345.4" r="2.10" fill="#5069c4"/>
<circle cx="83.8" cy="358.0" r="2.10" fill="#5069c4"/>
<circle cx="82.9" cy="360.9" r="2.10" fill="#5069c4"/>
<circle cx="86.2" cy="363.2" r="2.10" fill="#5069c4"/>
<circle cx="93.1" cy="358.6" r="2.10" fill="#5069c4"/>
<circle cx="92.0" cy="364.8" r="2.10" fill="#5069c4"/>
<circle cx="98.3" cy="355.1" r="2.10" fill="#5069c4"/>
<circle cx="100.3" cy="355.5" r="2.10" fill="#5069c4"/>
<circle cx="106.1" cy="360.5" r="2.10" fill="#5069c4"/>
<circle cx="109.4" cy="364.8" r="2.10" fill="#5069c4"/>
<circle cx="112.5" cy="356.7" r="2.10" fill="#5069c4"/>
<circle cx="114.4" cy="369.0" r="2.10" fill="#5069c4"/>
<circle cx="118.6" cy="360.9" r="2.10" fill="#5069c4"/>
<circle cx="105.1" cy="359.9" r="2.10" fill="#5069c4"/>
<circle cx="134.4" cy="337.3" r="2.10" fill="#5069c4"/>
<circle cx="164.4" cy="336.7" r="2.10" fill="#5069c4"/>
<circle cx="176.4" cy="337.3" r="2.10" fill="#5069c4"/>
<circle cx="127.7" cy="345.4" r="2.10" fill="#5069c4"/>
<circle cx="139.3" cy="345.4" r="2.10" fill="#5069c4"/>
<circle cx="149.3" cy="345.0" r="2.10" fill="#5069c4"/>
<circle cx="123.8" cy="348.9" r="2.10" fill="#5069c4"/>
<circle cx="166.4" cy="348.9" r="2.10" fill="#5069c4"/>
<circle cx="146.6" cy="352.2" r="2.10" fill="#5069c4"/>
<circle cx="144.1" cy="355.1" r="2.10" fill="#5069c4"/>
<circle cx="143.1" cy="359.4" r="2.10" fill="#5069c4"/>
<circle cx="137.3" cy="359.4" r="2.10" fill="#5069c4"/>
<circle cx="126.7" cy="359.9" r="2.10" fill="#5069c4"/>
<circle cx="122.8" cy="364.8" r="2.10" fill="#5069c4"/>
<circle cx="125.4" cy="364.4" r="2.10" fill="#5069c4"/>
<circle cx="148.0" cy="364.8" r="2.10" fill="#5069c4"/>
<circle cx="137.0" cy="367.7" r="2.10" fill="#5069c4"/>
<circle cx="135.0" cy="366.3" r="2.10" fill="#5069c4"/>
<circle cx="154.8" cy="358.6" r="2.10" fill="#5069c4"/>
<circle cx="160.9" cy="358.6" r="2.10" fill="#5069c4"/>
<circle cx="174.1" cy="358.6" r="2.10" fill="#5069c4"/>
<circle cx="181.4" cy="358.0" r="2.10" fill="#5069c4"/>
<circle cx="153.8" cy="367.7" r="2.10" fill="#5069c4"/>
<circle cx="158.6" cy="367.7" r="2.10" fill="#5069c4"/>
<circle cx="171.8" cy="366.3" r="2.10" fill="#5069c4"/>
<circle cx="178.0" cy="348.9" r="2.10" fill="#5069c4"/>
<circle cx="179.5" cy="350.9" r="2.10" fill="#5069c4"/>
<circle cx="119.0" cy="356.1" r="2.10" fill="#5069c4"/>
<circle cx="189.6" cy="355.5" r="2.10" fill="#14a814"/>
<circle cx="194.4" cy="353.6" r="2.10" fill="#14a814"/>
<circle cx="192.5" cy="358.0" r="2.10" fill="#14a814"/>
<circle cx="195.4" cy="359.0" r="2.10" fill="#14a814"/>
<circle cx="190.5" cy="363.8" r="2.10" fill="#14a814"/>
<circle cx="188.0" cy="366.3" r="2.10" fill="#14a814"/>
<circle cx="200.8" cy="369.0" r="2.10" fill="#14a814"/>
<circle cx="203.1" cy="369.0" r="2.10" fill="#14a814"/>
<circle cx="216.6" cy="369.0" r="2.10" fill="#c2823c"/>
<circle cx="249.8" cy="337.3" r="2.10" fill="#c2823c"/>
<circle cx="252.4" cy="335.4" r="2.10" fill="#c2823c"/>
<circle cx="236.9" cy="348.9" r="2.10" fill="#c2823c"/>
<circle cx="244.0" cy="348.9" r="2.10" fill="#c2823c"/>
<circle cx="251.2" cy="348.9" r="2.10" fill="#c2823c"/>
<circle cx="258.6" cy="353.6" r="2.10" fill="#c2823c"/>
<circle cx="231.9" cy="355.1" r="2.10" fill="#c2823c"/>
<circle cx="221.4" cy="362.5" r="2.10" fill="#c2823c"/>
<circle cx="217.9" cy="369.0" r="2.10" fill="#c2823c"/>
<circle cx="242.1" cy="365.7" r="2.10" fill="#c2823c"/>
<circle cx="264.0" cy="362.5" r="2.10" fill="#c2823c"/>
<circle cx="274.0" cy="365.7" r="2.10" fill="#c2823c"/>
<circle cx="276.3" cy="348.9" r="2.10" fill="#c2823c"/>
<circle cx="275.0" cy="357.4" r="2.10" fill="#c2823c"/>
<circle cx="282.7" cy="365.7" r="2.10" fill="#c2823c"/>
<circle cx="284.7" cy="363.2" r="2.10" fill="#c2823c"/>
<circle cx="286.6" cy="367.7" r="2.10" fill="#c2823c"/>
<circle cx="294.9" cy="337.3" r="2.10" fill="#c2823c"/>
<circle cx="295.7" cy="341.6" r="2.10" fill="#c2823c"/>
<circle cx="288.5" cy="358.6" r="2.10" fill="#c2823c"/>
<circle cx="305.9" cy="365.7" r="2.10" fill="#c2823c"/>
<circle cx="312.3" cy="353.2" r="2.10" fill="#c2823c"/>
<circle cx="310.8" cy="369.0" r="2.10" fill="#c2823c"/>
<circle cx="312.3" cy="359.4" r="2.10" fill="#c2823c"/>
<circle cx="340.7" cy="336.7" r="2.10" fill="#c2823c"/>
<circle cx="338.2" cy="341.2" r="2.10" fill="#c2823c"/>
<circle cx="353.7" cy="337.3" r="2.10" fill="#c2823c"/>
<circle cx="361.4" cy="343.1" r="2.10" fill="#c2823c"/>
<circle cx="327.9" cy="345.0" r="2.10" fill="#c2823c"/>
<circle cx="329.5" cy="355.1" r="2.10" fill="#c2823c"/>
<circle cx="344.6" cy="358.6" r="2.10" fill="#c2823c"/>
<circle cx="334.3" cy="364.8" r="2.10" fill="#c2823c"/>
<circle cx="337.2" cy="361.9" r="2.10" fill="#c2823c"/>
<circle cx="348.8" cy="365.7" r="2.10" fill="#c2823c"/>
<circle cx="316.3" cy="369.0" r="2.10" fill="#c2823c"/>
<circle cx="354.6" cy="369.0" r="2.10" fill="#c2823c"/>
<circle cx="336.2" cy="369.0" r="2.10" fill="#c2823c"/>
<circle cx="365.8" cy="357.4" r="2.10" fill="#ee1c1c"/>
<circle cx="362.7" cy="359.4" r="2.10" fill="#1ab2f2"/>
<circle cx="363.9" cy="369.0" r="2.10" fill="#1ab2f2"/>
<circle cx="376.3" cy="358.6" r="2.10" fill="#ec6ef0"/>
<circle cx="374.3" cy="362.8" r="2.10" fill="#ec6ef0"/>
<circle cx="383.2" cy="341.2" r="2.10" fill="#f99d14"/>
<circle cx="398.7" cy="336.2" r="2.10" fill="#f99d14"/>
<circle cx="402.6" cy="351.6" r="2.10" fill="#f99d14"/>
<circle cx="408.8" cy="357.4" r="2.10" fill="#f99d14"/>
<circle cx="393.3" cy="358.6" r="2.10" fill="#f99d14"/>
<circle cx="403.0" cy="360.5" r="2.10" fill="#f99d14"/>
<circle cx="380.7" cy="364.8" r="2.10" fill="#f99d14"/>
<circle cx="382.7" cy="367.7" r="2.10" fill="#f99d14"/>
<circle cx="386.0" cy="366.3" r="2.10" fill="#f99d14"/>
<circle cx="388.5" cy="367.7" r="2.10" fill="#f99d14"/>
<circle cx="391.0" cy="364.8" r="2.10" fill="#f99d14"/>
<circle cx="397.2" cy="364.8" r="2.10" fill="#f99d14"/>
<circle cx="400.1" cy="365.7" r="2.10" fill="#f99d14"/>
<circle cx="410.3" cy="369.0" r="2.10" fill="#f99d14"/>
<circle cx="413.6" cy="363.8" r="2.10" fill="#f99d14"/>
<circle cx="424.0" cy="347.4" r="2.10" fill="#f99d14"/>
<circle cx="423.2" cy="350.9" r="2.10" fill="#f99d14"/>
<circle cx="450.7" cy="341.2" r="2.10" fill="#f99d14"/>
<circle cx="449.7" cy="344.5" r="2.10" fill="#f99d14"/>
<circle cx="446.4" cy="348.9" r="2.10" fill="#f99d14"/>
<circle cx="453.6" cy="348.9" r="2.10" fill="#f99d14"/>
<circle cx="442.9" cy="353.6" r="2.10" fill="#f99d14"/>
<circle cx="442.0" cy="356.1" r="2.10" fill="#f99d14"/>
<circle cx="426.5" cy="360.5" r="2.10" fill="#f99d14"/>
<circle cx="429.8" cy="359.9" r="2.10" fill="#f99d14"/>
<circle cx="433.3" cy="359.9" r="2.10" fill="#f99d14"/>
<circle cx="437.1" cy="359.9" r="2.10" fill="#f99d14"/>
<circle cx="454.6" cy="358.6" r="2.10" fill="#f99d14"/>
<circle cx="458.0" cy="358.6" r="2.10" fill="#f99d14"/>
<circle cx="475.8" cy="358.6" r="2.10" fill="#f99d14"/>
<circle cx="413.9" cy="364.8" r="2.10" fill="#f99d14"/>
<circle cx="419.7" cy="364.8" r="2.10" fill="#f99d14"/>
<circle cx="421.3" cy="366.3" r="2.10" fill="#f99d14"/>
<circle cx="431.3" cy="364.8" r="2.10" fill="#f99d14"/>
<circle cx="434.8" cy="364.8" r="2.10" fill="#f99d14"/>
<circle cx="436.2" cy="366.7" r="2.10" fill="#f99d14"/>
<circle cx="425.9" cy="367.7" r="2.10" fill="#f99d14"/>
<circle cx="428.4" cy="368.3" r="2.10" fill="#f99d14"/>
<circle cx="418.8" cy="369.0" r="2.10" fill="#f99d14"/>
<circle cx="444.9" cy="369.0" r="2.10" fill="#f99d14"/>
<circle cx="448.8" cy="369.0" r="2.10" fill="#f99d14"/>
<circle cx="452.6" cy="369.0" r="2.10" fill="#f99d14"/>
<circle cx="460.0" cy="365.7" r="2.10" fill="#f99d14"/>
<circle cx="464.2" cy="364.8" r="2.10" fill="#f99d14"/>
<circle cx="470.0" cy="365.7" r="2.10" fill="#f99d14"/>
<circle cx="472.0" cy="367.7" r="2.10" fill="#f99d14"/>
<circle cx="478.7" cy="369.0" r="2.10" fill="#f99d14"/>
<circle cx="478.7" cy="358.6" r="2.10" fill="#ee5fb2"/>
<circle cx="481.6" cy="358.6" r="2.10" fill="#ee5fb2"/>
<circle cx="302.0" cy="118.7" r="2.10" fill="#c2823c"/>
<circle cx="418.5" cy="118.9" r="2.10" fill="#f99d14"/>
<path d="M46.2 103.6L50.1 110.1L42.4 110.1Z" fill="#1c1a6a"/>
<path d="M98.4 74.0L102.3 80.5L94.6 80.5Z" fill="#5069c4"/>
<path d="M136.4 73.6L140.3 80.1L132.6 80.1Z" fill="#5069c4"/>
<path d="M124.6 81.6L128.5 88.1L120.8 88.1Z" fill="#5069c4"/>
<path d="M114.9 90.8L118.8 97.3L111.1 97.3Z" fill="#5069c4"/>
<path d="M117.7 103.2L121.6 109.7L113.9 109.7Z" fill="#5069c4"/>
<path d="M134.0 107.3L137.9 113.8L130.2 113.8Z" fill="#5069c4"/>
<path d="M145.7 76.6L149.6 83.1L141.9 83.1Z" fill="#5069c4"/>
<path d="M187.3 99.5L191.2 106.0L183.5 106.0Z" fill="#5069c4"/>
<path d="M226.0 102.4L229.9 108.9L222.2 108.9Z" fill="#c2823c"/>
<path d="M264.0 107.6L267.9 114.1L260.2 114.1Z" fill="#c2823c"/>
<path d="M280.9 103.3L284.7 109.8L277.0 109.8Z" fill="#c2823c"/>
<path d="M330.4 107.6L334.2 114.1L326.5 114.1Z" fill="#c2823c"/>
<path d="M364.6 91.3L368.4 97.8L360.7 97.8Z" fill="#ec6ef0"/>
<path d="M378.9 73.9L382.7 80.4L375.0 80.4Z" fill="#f99d14"/>
<path d="M388.5 91.3L392.4 97.8L384.7 97.8Z" fill="#f99d14"/>
<path d="M396.9 89.4L400.7 95.9L393.0 95.9Z" fill="#f99d14"/>
<path d="M393.0 97.1L396.8 103.6L389.1 103.6Z" fill="#f99d14"/>
<path d="M407.9 103.3L411.7 109.8L404.0 109.8Z" fill="#f99d14"/>
<path d="M411.8 103.3L415.6 109.8L407.9 109.8Z" fill="#f99d14"/>
<path d="M420.7 107.6L424.5 114.1L416.8 114.1Z" fill="#f99d14"/>
<path d="M449.0 93.3L452.8 99.8L445.1 99.8Z" fill="#f99d14"/>
<path d="M452.7 90.8L456.6 97.3L448.9 97.3Z" fill="#f99d14"/>
<path d="M453.5 103.9L457.3 110.4L449.6 110.4Z" fill="#f99d14"/>
<path d="M80.9 205.5L84.8 212.0L77.1 212.0Z" fill="#5069c4"/>
<path d="M95.4 205.5L99.3 212.0L91.6 212.0Z" fill="#5069c4"/>
<path d="M100.3 218.1L104.1 224.6L96.4 224.6Z" fill="#5069c4"/>
<path d="M133.5 191.4L137.3 197.9L129.6 197.9Z" fill="#5069c4"/>
<path d="M126.1 211.9L130.0 218.4L122.3 218.4Z" fill="#5069c4"/>
<path d="M123.8 217.1L127.7 223.6L120.0 223.6Z" fill="#5069c4"/>
<path d="M145.5 211.9L149.3 218.4L141.6 218.4Z" fill="#5069c4"/>
<path d="M158.6 203.6L162.5 210.1L154.8 210.1Z" fill="#5069c4"/>
<path d="M164.0 203.6L167.9 210.1L160.2 210.1Z" fill="#5069c4"/>
<path d="M177.0 203.6L180.8 210.1L173.1 210.1Z" fill="#5069c4"/>
<path d="M175.6 213.2L179.5 219.7L171.8 219.7Z" fill="#5069c4"/>
<path d="M172.5 217.7L176.4 224.2L168.7 224.2Z" fill="#5069c4"/>
<path d="M188.0 183.2L191.9 189.7L184.2 189.7Z" fill="#14a814"/>
<path d="M202.1 199.1L206.0 205.6L198.3 205.6Z" fill="#c2823c"/>
<path d="M207.4 205.5L211.2 212.0L203.5 212.0Z" fill="#c2823c"/>
<path d="M213.2 211.9L217.0 218.4L209.3 218.4Z" fill="#c2823c"/>
<path d="M206.0 216.5L209.9 223.0L202.2 223.0Z" fill="#c2823c"/>
<path d="M211.8 183.2L215.7 189.7L208.0 189.7Z" fill="#c2823c"/>
<path d="M215.7 183.2L219.5 189.7L211.8 189.7Z" fill="#c2823c"/>
<path d="M217.0 183.2L220.8 189.7L213.1 189.7Z" fill="#c2823c"/>
<path d="M230.5 183.2L234.4 189.7L226.7 189.7Z" fill="#c2823c"/>
<path d="M245.4 183.2L249.3 189.7L241.6 189.7Z" fill="#c2823c"/>
<path d="M219.9 191.4L223.7 197.9L216.0 197.9Z" fill="#c2823c"/>
<path d="M240.2 191.4L244.0 197.9L236.3 197.9Z" fill="#c2823c"/>
<path d="M255.7 191.9L259.5 198.4L251.8 198.4Z" fill="#c2823c"/>
<path d="M258.2 191.4L262.0 197.9L254.3 197.9Z" fill="#c2823c"/>
<path d="M265.9 191.4L269.8 197.9L262.1 197.9Z" fill="#c2823c"/>
<path d="M297.6 186.1L301.5 192.6L293.8 192.6Z" fill="#c2823c"/>
<path d="M226.6 217.1L230.5 223.6L222.8 223.6Z" fill="#c2823c"/>
<path d="M267.8 215.2L271.7 221.7L264.0 221.7Z" fill="#c2823c"/>
<path d="M289.9 212.3L293.7 218.8L286.0 218.8Z" fill="#c2823c"/>
<path d="M291.4 218.4L295.3 224.9L287.6 224.9Z" fill="#c2823c"/>
<path d="M305.9 207.4L309.8 213.9L302.1 213.9Z" fill="#c2823c"/>
<path d="M312.3 203.6L316.2 210.1L308.5 210.1Z" fill="#c2823c"/>
<path d="M313.7 208.8L317.5 215.3L309.8 215.3Z" fill="#c2823c"/>
<path d="M314.6 198.7L318.5 205.2L310.8 205.2Z" fill="#c2823c"/>
<path d="M341.1 189.4L344.9 195.9L337.2 195.9Z" fill="#c2823c"/>
<path d="M315.9 198.3L319.8 204.8L312.1 204.8Z" fill="#c2823c"/>
<path d="M319.4 198.3L323.3 204.8L315.6 204.8Z" fill="#c2823c"/>
<path d="M347.3 198.3L351.1 204.8L343.4 204.8Z" fill="#c2823c"/>
<path d="M353.1 200.3L356.9 206.8L349.2 206.8Z" fill="#c2823c"/>
<path d="M324.1 205.5L327.9 212.0L320.2 212.0Z" fill="#c2823c"/>
<path d="M329.1 212.3L332.9 218.8L325.2 218.8Z" fill="#c2823c"/>
<path d="M335.3 217.1L339.1 223.6L331.4 223.6Z" fill="#c2823c"/>
<path d="M354.6 217.7L358.5 224.2L350.8 224.2Z" fill="#c2823c"/>
<path d="M314.0 208.8L317.9 215.3L310.1 215.3Z" fill="#c2823c"/>
<path d="M391.0 212.6L394.8 219.1L387.1 219.1Z" fill="#f99d14"/>
<path d="M104.1 327.6L108.0 334.1L100.3 334.1Z" fill="#5069c4"/>
<path d="M175.1 308.7L178.9 315.2L171.2 315.2Z" fill="#5069c4"/>
<path d="M160.2 323.2L164.0 329.7L156.3 329.7Z" fill="#5069c4"/>
<path d="M152.4 327.6L156.3 334.1L148.6 334.1Z" fill="#5069c4"/>
<path d="M180.3 323.2L184.1 329.7L176.4 329.7Z" fill="#5069c4"/>
<path d="M186.7 328.4L190.5 334.9L182.8 334.9Z" fill="#5069c4"/>
<path d="M209.9 301.9L213.7 308.4L206.0 308.4Z" fill="#c2823c"/>
<path d="M207.4 309.0L211.2 315.5L203.5 315.5Z" fill="#c2823c"/>
<path d="M211.8 316.0L215.7 322.5L208.0 322.5Z" fill="#c2823c"/>
<path d="M217.0 323.2L220.9 329.7L213.2 329.7Z" fill="#c2823c"/>
<path d="M246.9 301.3L250.8 307.8L243.1 307.8Z" fill="#c2823c"/>
<path d="M271.1 301.3L275.0 307.8L267.3 307.8Z" fill="#c2823c"/>
<path d="M233.0 309.6L236.9 316.1L229.2 316.1Z" fill="#c2823c"/>
<path d="M265.9 309.6L269.8 316.1L262.1 316.1Z" fill="#c2823c"/>
<path d="M225.3 316.4L229.1 322.9L221.4 322.9Z" fill="#c2823c"/>
<path d="M256.2 316.0L260.1 322.5L252.4 322.5Z" fill="#c2823c"/>
<path d="M218.9 322.2L222.8 328.7L215.1 328.7Z" fill="#c2823c"/>
<path d="M265.3 322.2L269.2 328.7L261.5 328.7Z" fill="#c2823c"/>
<path d="M262.4 325.1L266.3 331.6L258.6 331.6Z" fill="#c2823c"/>
<path d="M272.5 322.2L276.3 328.7L268.6 328.7Z" fill="#c2823c"/>
<path d="M297.2 319.3L301.1 325.8L293.4 325.8Z" fill="#c2823c"/>
<path d="M303.4 323.2L307.3 329.7L299.6 329.7Z" fill="#c2823c"/>
<path d="M313.7 325.1L317.5 331.6L309.8 331.6Z" fill="#c2823c"/>
<path d="M320.2 303.2L324.0 309.7L316.3 309.7Z" fill="#c2823c"/>
<path d="M322.7 314.1L326.6 320.6L318.9 320.6Z" fill="#c2823c"/>
<path d="M318.8 318.7L322.7 325.2L315.0 325.2Z" fill="#c2823c"/>
<path d="M314.0 325.1L317.9 331.6L310.1 331.6Z" fill="#c2823c"/>
<path d="M325.6 328.0L329.5 334.5L321.8 334.5Z" fill="#c2823c"/>
<path d="M347.3 311.6L351.1 318.1L343.4 318.1Z" fill="#c2823c"/>
<path d="M360.0 311.0L363.9 317.5L356.2 317.5Z" fill="#c2823c"/>
<path d="M357.5 323.2L361.4 329.7L353.7 329.7Z" fill="#c2823c"/>
<circle cx="47.7" cy="119.3" r="2.60" fill="none" stroke="#1c1a6a" stroke-width="1.05"/>
<circle cx="49.6" cy="129.0" r="2.60" fill="none" stroke="#7a2aa0" stroke-width="1.05"/>
<circle cx="63.5" cy="115.9" r="2.60" fill="none" stroke="#1864ec" stroke-width="1.05"/>
<circle cx="59.3" cy="119.1" r="2.60" fill="none" stroke="#1864ec" stroke-width="1.05"/>
<circle cx="74.7" cy="116.4" r="2.60" fill="none" stroke="#1864ec" stroke-width="1.05"/>
<circle cx="79.6" cy="120.9" r="2.60" fill="none" stroke="#1864ec" stroke-width="1.05"/>
<circle cx="66.5" cy="129.6" r="2.60" fill="none" stroke="#1864ec" stroke-width="1.05"/>
<circle cx="55.6" cy="140.8" r="2.60" fill="none" stroke="#1864ec" stroke-width="1.05"/>
<circle cx="64.4" cy="143.0" r="2.60" fill="none" stroke="#1864ec" stroke-width="1.05"/>
<circle cx="75.8" cy="143.4" r="2.60" fill="none" stroke="#1864ec" stroke-width="1.05"/>
<circle cx="101.2" cy="116.8" r="2.60" fill="none" stroke="#5069c4" stroke-width="1.05"/>
<circle cx="111.5" cy="125.3" r="2.60" fill="none" stroke="#5069c4" stroke-width="1.05"/>
<circle cx="120.9" cy="122.8" r="2.60" fill="none" stroke="#5069c4" stroke-width="1.05"/>
<circle cx="119.6" cy="138.7" r="2.60" fill="none" stroke="#5069c4" stroke-width="1.05"/>
<circle cx="130.3" cy="143.0" r="2.60" fill="none" stroke="#5069c4" stroke-width="1.05"/>
<circle cx="110.2" cy="138.9" r="2.60" fill="none" stroke="#5069c4" stroke-width="1.05"/>
<circle cx="169.9" cy="116.9" r="2.60" fill="none" stroke="#5069c4" stroke-width="1.05"/>
<circle cx="181.5" cy="118.8" r="2.60" fill="none" stroke="#5069c4" stroke-width="1.05"/>
<circle cx="141.5" cy="128.9" r="2.60" fill="none" stroke="#5069c4" stroke-width="1.05"/>
<circle cx="184.0" cy="132.0" r="2.60" fill="none" stroke="#5069c4" stroke-width="1.05"/>
<circle cx="171.8" cy="137.8" r="2.60" fill="none" stroke="#5069c4" stroke-width="1.05"/>
<circle cx="155.0" cy="148.8" r="2.60" fill="none" stroke="#5069c4" stroke-width="1.05"/>
<circle cx="186.0" cy="142.0" r="2.60" fill="none" stroke="#5069c4" stroke-width="1.05"/>
<circle cx="199.5" cy="119.2" r="2.60" fill="none" stroke="#14a814" stroke-width="1.05"/>
<circle cx="204.7" cy="139.1" r="2.60" fill="none" stroke="#14a814" stroke-width="1.05"/>
<circle cx="206.1" cy="149.4" r="1.56" fill="none" stroke="#16b46a" stroke-width="1.05"/>
<circle cx="216.3" cy="117.3" r="2.60" fill="none" stroke="#c2823c" stroke-width="1.05"/>
<circle cx="219.2" cy="117.3" r="2.60" fill="none" stroke="#c2823c" stroke-width="1.05"/>
<circle cx="225.0" cy="117.3" r="2.60" fill="none" stroke="#c2823c" stroke-width="1.05"/>
<circle cx="222.1" cy="124.6" r="2.60" fill="none" stroke="#c2823c" stroke-width="1.05"/>
<circle cx="227.4" cy="123.1" r="2.60" fill="none" stroke="#c2823c" stroke-width="1.05"/>
<circle cx="228.5" cy="128.9" r="2.60" fill="none" stroke="#c2823c" stroke-width="1.05"/>
<circle cx="232.4" cy="132.8" r="2.60" fill="none" stroke="#c2823c" stroke-width="1.05"/>
<circle cx="234.3" cy="140.1" r="2.60" fill="none" stroke="#c2823c" stroke-width="1.05"/>
<circle cx="221.2" cy="149.4" r="2.60" fill="none" stroke="#c2823c" stroke-width="1.05"/>
<circle cx="242.8" cy="118.4" r="2.60" fill="none" stroke="#c2823c" stroke-width="1.05"/>
<circle cx="253.4" cy="117.3" r="2.60" fill="none" stroke="#c2823c" stroke-width="1.05"/>
<circle cx="245.3" cy="125.6" r="2.60" fill="none" stroke="#c2823c" stroke-width="1.05"/>
<circle cx="262.1" cy="125.6" r="2.60" fill="none" stroke="#c2823c" stroke-width="1.05"/>
<circle cx="276.6" cy="118.8" r="2.60" fill="none" stroke="#c2823c" stroke-width="1.05"/>
<circle cx="272.8" cy="129.5" r="2.60" fill="none" stroke="#c2823c" stroke-width="1.05"/>
<circle cx="283.4" cy="128.9" r="2.60" fill="none" stroke="#c2823c" stroke-width="1.05"/>
<circle cx="285.3" cy="128.9" r="2.60" fill="none" stroke="#c2823c" stroke-width="1.05"/>
<circle cx="296.3" cy="128.9" r="2.60" fill="none" stroke="#c2823c" stroke-width="1.05"/>
<circle cx="298.9" cy="128.9" r="2.60" fill="none" stroke="#c2823c" stroke-width="1.05"/>
<circle cx="305.6" cy="118.8" r="2.60" fill="none" stroke="#c2823c" stroke-width="1.05"/>
<circle cx="289.2" cy="138.6" r="2.60" fill="none" stroke="#c2823c" stroke-width="1.05"/>
<circle cx="307.2" cy="138.6" r="2.60" fill="none" stroke="#c2823c" stroke-width="1.05"/>
<circle cx="314.3" cy="136.2" r="2.60" fill="none" stroke="#c2823c" stroke-width="1.05"/>
<circle cx="321.1" cy="118.8" r="2.60" fill="none" stroke="#c2823c" stroke-width="1.05"/>
<circle cx="326.9" cy="143.0" r="2.60" fill="none" stroke="#c2823c" stroke-width="1.05"/>
<circle cx="274.7" cy="149.4" r="2.60" fill="none" stroke="#c2823c" stroke-width="1.05"/>
<circle cx="284.0" cy="149.4" r="2.60" fill="none" stroke="#c2823c" stroke-width="1.05"/>
<circle cx="236.4" cy="140.1" r="2.60" fill="none" stroke="#c2823c" stroke-width="1.05"/>
<circle cx="360.1" cy="117.9" r="2.60" fill="none" stroke="#ee1c1c" stroke-width="1.05"/>
<circle cx="362.6" cy="125.0" r="2.60" fill="none" stroke="#ee1c1c" stroke-width="1.05"/>
<circle cx="357.6" cy="119.2" r="2.60" fill="none" stroke="#1ab2f2" stroke-width="1.05"/>
<circle cx="358.8" cy="138.6" r="2.60" fill="none" stroke="#1ab2f2" stroke-width="1.05"/>
<circle cx="380.8" cy="116.5" r="2.60" fill="none" stroke="#f99d14" stroke-width="1.05"/>
<circle cx="405.2" cy="128.9" r="2.60" fill="none" stroke="#f99d14" stroke-width="1.05"/>
<circle cx="411.0" cy="138.6" r="2.60" fill="none" stroke="#f99d14" stroke-width="1.05"/>
<circle cx="431.7" cy="134.3" r="2.60" fill="none" stroke="#f99d14" stroke-width="1.05"/>
<circle cx="347.9" cy="128.9" r="2.60" fill="none" stroke="#c2823c" stroke-width="1.05"/>
<circle cx="338.8" cy="136.2" r="2.60" fill="none" stroke="#c2823c" stroke-width="1.05"/>
<circle cx="350.4" cy="138.6" r="2.60" fill="none" stroke="#c2823c" stroke-width="1.05"/>
<circle cx="341.7" cy="148.8" r="2.60" fill="none" stroke="#c2823c" stroke-width="1.05"/>
<circle cx="432.1" cy="135.2" r="2.60" fill="none" stroke="#f99d14" stroke-width="1.05"/>
<circle cx="474.7" cy="122.8" r="2.60" fill="none" stroke="#f99d14" stroke-width="1.05"/>
<circle cx="444.1" cy="138.4" r="2.60" fill="none" stroke="#f99d14" stroke-width="1.05"/>
<circle cx="470.0" cy="138.4" r="2.60" fill="none" stroke="#f99d14" stroke-width="1.05"/>
<circle cx="462.5" cy="146.4" r="2.60" fill="none" stroke="#f99d14" stroke-width="1.05"/>
<circle cx="473.3" cy="148.7" r="2.60" fill="none" stroke="#f99d14" stroke-width="1.05"/>
<circle cx="486.5" cy="119.1" r="2.60" fill="none" stroke="#ee5fb2" stroke-width="1.05"/>
<circle cx="485.3" cy="129.6" r="2.60" fill="none" stroke="#ee5fb2" stroke-width="1.05"/>
<circle cx="488.3" cy="138.9" r="2.60" fill="none" stroke="#ee5fb2" stroke-width="1.05"/>
<circle cx="51.9" cy="250.0" r="2.60" fill="none" stroke="#1864ec" stroke-width="1.05"/>
<circle cx="58.3" cy="224.9" r="2.60" fill="none" stroke="#1864ec" stroke-width="1.05"/>
<circle cx="60.6" cy="228.7" r="2.60" fill="none" stroke="#1864ec" stroke-width="1.05"/>
<circle cx="53.3" cy="231.2" r="2.60" fill="none" stroke="#1864ec" stroke-width="1.05"/>
<circle cx="50.6" cy="235.1" r="2.60" fill="none" stroke="#1864ec" stroke-width="1.05"/>
<circle cx="73.8" cy="224.9" r="2.60" fill="none" stroke="#1864ec" stroke-width="1.05"/>
<circle cx="75.1" cy="228.7" r="2.60" fill="none" stroke="#1864ec" stroke-width="1.05"/>
<circle cx="55.8" cy="257.2" r="2.60" fill="none" stroke="#1864ec" stroke-width="1.05"/>
<circle cx="88.1" cy="226.8" r="2.60" fill="none" stroke="#5069c4" stroke-width="1.05"/>
<circle cx="89.6" cy="235.1" r="2.60" fill="none" stroke="#5069c4" stroke-width="1.05"/>
<circle cx="92.5" cy="235.1" r="2.60" fill="none" stroke="#5069c4" stroke-width="1.05"/>
<circle cx="93.5" cy="241.3" r="2.60" fill="none" stroke="#5069c4" stroke-width="1.05"/>
<circle cx="100.9" cy="238.4" r="2.60" fill="none" stroke="#5069c4" stroke-width="1.05"/>
<circle cx="105.1" cy="236.5" r="2.60" fill="none" stroke="#5069c4" stroke-width="1.05"/>
<circle cx="83.4" cy="247.1" r="2.60" fill="none" stroke="#5069c4" stroke-width="1.05"/>
<circle cx="86.7" cy="250.0" r="2.60" fill="none" stroke="#5069c4" stroke-width="1.05"/>
<circle cx="81.9" cy="251.9" r="2.60" fill="none" stroke="#5069c4" stroke-width="1.05"/>
<circle cx="84.8" cy="256.4" r="2.60" fill="none" stroke="#5069c4" stroke-width="1.05"/>
<circle cx="115.7" cy="227.4" r="2.60" fill="none" stroke="#5069c4" stroke-width="1.05"/>
<circle cx="108.0" cy="248.1" r="2.60" fill="none" stroke="#5069c4" stroke-width="1.05"/>
<circle cx="109.0" cy="255.8" r="2.60" fill="none" stroke="#5069c4" stroke-width="1.05"/>
<circle cx="201.2" cy="228.7" r="2.60" fill="none" stroke="#20c8b6" stroke-width="1.05"/>
<circle cx="198.9" cy="248.1" r="2.60" fill="none" stroke="#20c8b6" stroke-width="1.05"/>
<circle cx="196.3" cy="238.4" r="2.60" fill="none" stroke="#14a814" stroke-width="1.05"/>
<circle cx="190.5" cy="244.8" r="2.60" fill="none" stroke="#14a814" stroke-width="1.05"/>
<circle cx="193.0" cy="248.7" r="2.60" fill="none" stroke="#14a814" stroke-width="1.05"/>
<circle cx="190.0" cy="251.4" r="2.60" fill="none" stroke="#14a814" stroke-width="1.05"/>
<circle cx="191.1" cy="254.8" r="2.60" fill="none" stroke="#14a814" stroke-width="1.05"/>
<circle cx="209.9" cy="241.3" r="2.60" fill="none" stroke="#c2823c" stroke-width="1.05"/>
<circle cx="215.7" cy="241.3" r="2.60" fill="none" stroke="#c2823c" stroke-width="1.05"/>
<circle cx="143.1" cy="226.8" r="2.60" fill="none" stroke="#5069c4" stroke-width="1.05"/>
<circle cx="148.9" cy="228.7" r="2.60" fill="none" stroke="#5069c4" stroke-width="1.05"/>
<circle cx="155.1" cy="226.8" r="2.60" fill="none" stroke="#5069c4" stroke-width="1.05"/>
<circle cx="131.2" cy="232.0" r="2.60" fill="none" stroke="#5069c4" stroke-width="1.05"/>
<circle cx="131.9" cy="239.8" r="2.60" fill="none" stroke="#5069c4" stroke-width="1.05"/>
<circle cx="134.4" cy="240.3" r="2.60" fill="none" stroke="#5069c4" stroke-width="1.05"/>
<circle cx="137.3" cy="241.3" r="2.60" fill="none" stroke="#5069c4" stroke-width="1.05"/>
<circle cx="119.0" cy="240.3" r="2.60" fill="none" stroke="#5069c4" stroke-width="1.05"/>
<circle cx="121.9" cy="241.7" r="2.60" fill="none" stroke="#5069c4" stroke-width="1.05"/>
<circle cx="128.6" cy="248.1" r="2.60" fill="none" stroke="#5069c4" stroke-width="1.05"/>
<circle cx="140.8" cy="246.7" r="2.60" fill="none" stroke="#5069c4" stroke-width="1.05"/>
<circle cx="156.3" cy="238.4" r="2.60" fill="none" stroke="#5069c4" stroke-width="1.05"/>
<circle cx="161.5" cy="236.5" r="2.60" fill="none" stroke="#5069c4" stroke-width="1.05"/>
<circle cx="164.4" cy="240.9" r="2.60" fill="none" stroke="#5069c4" stroke-width="1.05"/>
<circle cx="167.3" cy="233.2" r="2.60" fill="none" stroke="#5069c4" stroke-width="1.05"/>
<circle cx="169.8" cy="231.2" r="2.60" fill="none" stroke="#5069c4" stroke-width="1.05"/>
<circle cx="181.8" cy="224.9" r="2.60" fill="none" stroke="#5069c4" stroke-width="1.05"/>
<circle cx="180.3" cy="240.9" r="2.60" fill="none" stroke="#5069c4" stroke-width="1.05"/>
<circle cx="166.4" cy="249.4" r="2.60" fill="none" stroke="#5069c4" stroke-width="1.05"/>
<circle cx="173.7" cy="252.9" r="2.60" fill="none" stroke="#5069c4" stroke-width="1.05"/>
<circle cx="178.3" cy="251.9" r="2.60" fill="none" stroke="#5069c4" stroke-width="1.05"/>
<circle cx="179.5" cy="257.7" r="2.60" fill="none" stroke="#5069c4" stroke-width="1.05"/>
<circle cx="146.6" cy="258.3" r="2.60" fill="none" stroke="#5069c4" stroke-width="1.05"/>
<circle cx="157.7" cy="256.8" r="2.60" fill="none" stroke="#5069c4" stroke-width="1.05"/>
<circle cx="162.5" cy="256.8" r="2.60" fill="none" stroke="#5069c4" stroke-width="1.05"/>
<circle cx="236.9" cy="228.7" r="2.60" fill="none" stroke="#c2823c" stroke-width="1.05"/>
<circle cx="253.7" cy="223.9" r="2.60" fill="none" stroke="#c2823c" stroke-width="1.05"/>
<circle cx="220.3" cy="236.5" r="2.60" fill="none" stroke="#c2823c" stroke-width="1.05"/>
<circle cx="217.9" cy="241.7" r="2.60" fill="none" stroke="#c2823c" stroke-width="1.05"/>
<circle cx="229.2" cy="241.7" r="2.60" fill="none" stroke="#c2823c" stroke-width="1.05"/>
<circle cx="241.5" cy="239.0" r="2.60" fill="none" stroke="#c2823c" stroke-width="1.05"/>
<circle cx="247.3" cy="241.7" r="2.60" fill="none" stroke="#c2823c" stroke-width="1.05"/>
<circle cx="260.1" cy="239.0" r="2.60" fill="none" stroke="#c2823c" stroke-width="1.05"/>
<circle cx="266.7" cy="239.0" r="2.60" fill="none" stroke="#c2823c" stroke-width="1.05"/>
<circle cx="277.5" cy="239.0" r="2.60" fill="none" stroke="#c2823c" stroke-width="1.05"/>
<circle cx="288.5" cy="239.0" r="2.60" fill="none" stroke="#c2823c" stroke-width="1.05"/>
<circle cx="300.7" cy="228.7" r="2.60" fill="none" stroke="#c2823c" stroke-width="1.05"/>
<circle cx="299.6" cy="239.0" r="2.60" fill="none" stroke="#c2823c" stroke-width="1.05"/>
<circle cx="235.0" cy="246.7" r="2.60" fill="none" stroke="#c2823c" stroke-width="1.05"/>
<circle cx="227.6" cy="251.4" r="2.60" fill="none" stroke="#c2823c" stroke-width="1.05"/>
<circle cx="242.7" cy="258.3" r="2.60" fill="none" stroke="#c2823c" stroke-width="1.05"/>
<circle cx="308.8" cy="249.4" r="2.60" fill="none" stroke="#c2823c" stroke-width="1.05"/>
<circle cx="310.8" cy="254.5" r="2.60" fill="none" stroke="#c2823c" stroke-width="1.05"/>
<circle cx="349.2" cy="226.2" r="2.60" fill="none" stroke="#c2823c" stroke-width="1.05"/>
<circle cx="331.4" cy="244.2" r="2.60" fill="none" stroke="#c2823c" stroke-width="1.05"/>
<circle cx="339.1" cy="254.5" r="2.60" fill="none" stroke="#c2823c" stroke-width="1.05"/>
<circle cx="347.8" cy="248.1" r="2.60" fill="none" stroke="#c2823c" stroke-width="1.05"/>
<circle cx="343.0" cy="255.8" r="2.60" fill="none" stroke="#c2823c" stroke-width="1.05"/>
<circle cx="315.0" cy="257.7" r="2.60" fill="none" stroke="#c2823c" stroke-width="1.05"/>
<circle cx="361.4" cy="254.8" r="2.60" fill="none" stroke="#ec6ef0" stroke-width="1.05"/>
<circle cx="378.8" cy="228.2" r="2.60" fill="none" stroke="#f99d14" stroke-width="1.05"/>
<circle cx="381.7" cy="226.8" r="2.60" fill="none" stroke="#f99d14" stroke-width="1.05"/>
<circle cx="384.6" cy="230.7" r="2.60" fill="none" stroke="#f99d14" stroke-width="1.05"/>
<circle cx="373.0" cy="239.0" r="2.60" fill="none" stroke="#f99d14" stroke-width="1.05"/>
<circle cx="394.9" cy="242.9" r="2.60" fill="none" stroke="#f99d14" stroke-width="1.05"/>
<circle cx="409.2" cy="242.9" r="2.60" fill="none" stroke="#f99d14" stroke-width="1.05"/>
<circle cx="393.7" cy="248.7" r="2.60" fill="none" stroke="#f99d14" stroke-width="1.05"/>
<circle cx="397.2" cy="258.3" r="2.60" fill="none" stroke="#f99d14" stroke-width="1.05"/>
<circle cx="388.5" cy="251.4" r="2.60" fill="none" stroke="#f99d14" stroke-width="1.05"/>
<circle cx="396.2" cy="252.9" r="2.60" fill="none" stroke="#f99d14" stroke-width="1.05"/>
<circle cx="438.7" cy="226.8" r="2.60" fill="none" stroke="#f99d14" stroke-width="1.05"/>
<circle cx="446.8" cy="238.4" r="2.60" fill="none" stroke="#f99d14" stroke-width="1.05"/>
<circle cx="454.2" cy="242.3" r="2.60" fill="none" stroke="#f99d14" stroke-width="1.05"/>
<circle cx="467.7" cy="238.4" r="2.60" fill="none" stroke="#f99d14" stroke-width="1.05"/>
<circle cx="473.5" cy="240.9" r="2.60" fill="none" stroke="#f99d14" stroke-width="1.05"/>
<circle cx="477.8" cy="242.9" r="2.60" fill="none" stroke="#f99d14" stroke-width="1.05"/>
<circle cx="417.8" cy="257.2" r="2.60" fill="none" stroke="#f99d14" stroke-width="1.05"/>
<circle cx="429.0" cy="255.2" r="2.60" fill="none" stroke="#f99d14" stroke-width="1.05"/>
<circle cx="436.8" cy="253.3" r="2.60" fill="none" stroke="#f99d14" stroke-width="1.05"/>
<circle cx="447.8" cy="257.2" r="2.60" fill="none" stroke="#f99d14" stroke-width="1.05"/>
<circle cx="458.4" cy="248.1" r="2.60" fill="none" stroke="#f99d14" stroke-width="1.05"/>
<circle cx="480.1" cy="248.1" r="2.60" fill="none" stroke="#ee5fb2" stroke-width="1.05"/>
<circle cx="483.2" cy="248.1" r="2.60" fill="none" stroke="#ee5fb2" stroke-width="1.05"/>
<circle cx="45.1" cy="356.1" r="2.60" fill="none" stroke="#1c1a6a" stroke-width="1.05"/>
<circle cx="53.3" cy="337.3" r="2.60" fill="none" stroke="#1864ec" stroke-width="1.05"/>
<circle cx="59.7" cy="338.7" r="2.60" fill="none" stroke="#1864ec" stroke-width="1.05"/>
<circle cx="64.1" cy="342.5" r="2.60" fill="none" stroke="#1864ec" stroke-width="1.05"/>
<circle cx="55.8" cy="348.3" r="2.60" fill="none" stroke="#1864ec" stroke-width="1.05"/>
<circle cx="64.9" cy="348.9" r="2.60" fill="none" stroke="#1864ec" stroke-width="1.05"/>
<circle cx="68.7" cy="348.9" r="2.60" fill="none" stroke="#1864ec" stroke-width="1.05"/>
<circle cx="54.8" cy="357.4" r="2.60" fill="none" stroke="#1864ec" stroke-width="1.05"/>
<circle cx="69.9" cy="356.1" r="2.60" fill="none" stroke="#1864ec" stroke-width="1.05"/>
<circle cx="74.5" cy="356.1" r="2.60" fill="none" stroke="#1864ec" stroke-width="1.05"/>
<circle cx="75.1" cy="338.7" r="2.60" fill="none" stroke="#1864ec" stroke-width="1.05"/>
<circle cx="62.2" cy="369.0" r="2.60" fill="none" stroke="#1864ec" stroke-width="1.05"/>
<circle cx="66.8" cy="368.3" r="2.60" fill="none" stroke="#1864ec" stroke-width="1.05"/>
<circle cx="100.9" cy="341.6" r="2.60" fill="none" stroke="#1864ec" stroke-width="1.05"/>
<circle cx="119.0" cy="342.5" r="2.60" fill="none" stroke="#1864ec" stroke-width="1.05"/>
<circle cx="102.2" cy="359.9" r="2.60" fill="none" stroke="#5069c4" stroke-width="1.05"/>
<circle cx="109.9" cy="359.0" r="2.60" fill="none" stroke="#5069c4" stroke-width="1.05"/>
<circle cx="121.5" cy="343.1" r="2.60" fill="none" stroke="#5069c4" stroke-width="1.05"/>
<circle cx="140.8" cy="348.9" r="2.60" fill="none" stroke="#5069c4" stroke-width="1.05"/>
<circle cx="163.5" cy="343.9" r="2.60" fill="none" stroke="#5069c4" stroke-width="1.05"/>
<circle cx="167.9" cy="338.7" r="2.60" fill="none" stroke="#5069c4" stroke-width="1.05"/>
<circle cx="183.8" cy="348.9" r="2.60" fill="none" stroke="#5069c4" stroke-width="1.05"/>
<circle cx="184.7" cy="352.8" r="2.60" fill="none" stroke="#5069c4" stroke-width="1.05"/>
<circle cx="185.7" cy="359.0" r="2.60" fill="none" stroke="#5069c4" stroke-width="1.05"/>
<circle cx="119.5" cy="359.0" r="2.60" fill="none" stroke="#5069c4" stroke-width="1.05"/>
<circle cx="129.2" cy="358.6" r="2.60" fill="none" stroke="#5069c4" stroke-width="1.05"/>
<circle cx="143.1" cy="358.6" r="2.60" fill="none" stroke="#5069c4" stroke-width="1.05"/>
<circle cx="130.6" cy="369.0" r="2.60" fill="none" stroke="#5069c4" stroke-width="1.05"/>
<circle cx="162.5" cy="368.3" r="2.60" fill="none" stroke="#5069c4" stroke-width="1.05"/>
<circle cx="199.6" cy="338.7" r="2.60" fill="none" stroke="#14a814" stroke-width="1.05"/>
<circle cx="205.0" cy="337.3" r="2.60" fill="none" stroke="#14a814" stroke-width="1.05"/>
<circle cx="196.9" cy="355.1" r="2.60" fill="none" stroke="#14a814" stroke-width="1.05"/>
<circle cx="198.3" cy="357.0" r="2.60" fill="none" stroke="#14a814" stroke-width="1.05"/>
<circle cx="214.7" cy="342.0" r="2.60" fill="none" stroke="#c2823c" stroke-width="1.05"/>
<circle cx="213.7" cy="358.6" r="2.60" fill="none" stroke="#c2823c" stroke-width="1.05"/>
<circle cx="217.9" cy="341.6" r="2.60" fill="none" stroke="#c2823c" stroke-width="1.05"/>
<circle cx="220.8" cy="341.6" r="2.60" fill="none" stroke="#c2823c" stroke-width="1.05"/>
<circle cx="224.1" cy="342.0" r="2.60" fill="none" stroke="#c2823c" stroke-width="1.05"/>
<circle cx="227.2" cy="343.1" r="2.60" fill="none" stroke="#c2823c" stroke-width="1.05"/>
<circle cx="235.3" cy="337.3" r="2.60" fill="none" stroke="#c2823c" stroke-width="1.05"/>
<circle cx="260.9" cy="337.3" r="2.60" fill="none" stroke="#c2823c" stroke-width="1.05"/>
<circle cx="278.9" cy="338.7" r="2.60" fill="none" stroke="#c2823c" stroke-width="1.05"/>
<circle cx="243.5" cy="343.1" r="2.60" fill="none" stroke="#c2823c" stroke-width="1.05"/>
<circle cx="248.9" cy="344.5" r="2.60" fill="none" stroke="#c2823c" stroke-width="1.05"/>
<circle cx="223.7" cy="348.9" r="2.60" fill="none" stroke="#c2823c" stroke-width="1.05"/>
<circle cx="246.0" cy="353.2" r="2.60" fill="none" stroke="#c2823c" stroke-width="1.05"/>
<circle cx="254.7" cy="352.2" r="2.60" fill="none" stroke="#c2823c" stroke-width="1.05"/>
<circle cx="267.8" cy="348.9" r="2.60" fill="none" stroke="#c2823c" stroke-width="1.05"/>
<circle cx="238.2" cy="358.6" r="2.60" fill="none" stroke="#c2823c" stroke-width="1.05"/>
<circle cx="240.8" cy="364.8" r="2.60" fill="none" stroke="#c2823c" stroke-width="1.05"/>
<circle cx="234.4" cy="369.0" r="2.60" fill="none" stroke="#c2823c" stroke-width="1.05"/>
<circle cx="260.1" cy="365.7" r="2.60" fill="none" stroke="#c2823c" stroke-width="1.05"/>
<circle cx="269.8" cy="362.8" r="2.60" fill="none" stroke="#c2823c" stroke-width="1.05"/>
<circle cx="276.3" cy="364.8" r="2.60" fill="none" stroke="#c2823c" stroke-width="1.05"/>
<circle cx="278.3" cy="369.0" r="2.60" fill="none" stroke="#c2823c" stroke-width="1.05"/>
<circle cx="290.5" cy="348.9" r="2.60" fill="none" stroke="#c2823c" stroke-width="1.05"/>
<circle cx="293.4" cy="348.3" r="2.60" fill="none" stroke="#c2823c" stroke-width="1.05"/>
<circle cx="298.8" cy="348.9" r="2.60" fill="none" stroke="#c2823c" stroke-width="1.05"/>
<circle cx="291.8" cy="351.2" r="2.60" fill="none" stroke="#c2823c" stroke-width="1.05"/>
<circle cx="307.9" cy="348.9" r="2.60" fill="none" stroke="#c2823c" stroke-width="1.05"/>
<circle cx="290.5" cy="358.6" r="2.60" fill="none" stroke="#c2823c" stroke-width="1.05"/>
<circle cx="301.1" cy="361.3" r="2.60" fill="none" stroke="#c2823c" stroke-width="1.05"/>
<circle cx="308.8" cy="358.6" r="2.60" fill="none" stroke="#c2823c" stroke-width="1.05"/>
<circle cx="314.6" cy="339.2" r="2.60" fill="none" stroke="#c2823c" stroke-width="1.05"/>
<circle cx="315.5" cy="338.7" r="2.60" fill="none" stroke="#c2823c" stroke-width="1.05"/>
<circle cx="317.5" cy="348.9" r="2.60" fill="none" stroke="#c2823c" stroke-width="1.05"/>
<circle cx="331.8" cy="348.9" r="2.60" fill="none" stroke="#c2823c" stroke-width="1.05"/>
<circle cx="349.8" cy="348.9" r="2.60" fill="none" stroke="#c2823c" stroke-width="1.05"/>
<circle cx="321.7" cy="358.6" r="2.60" fill="none" stroke="#c2823c" stroke-width="1.05"/>
<circle cx="339.1" cy="358.6" r="2.60" fill="none" stroke="#c2823c" stroke-width="1.05"/>
<circle cx="350.8" cy="358.6" r="2.60" fill="none" stroke="#c2823c" stroke-width="1.05"/>
<circle cx="358.5" cy="358.6" r="2.60" fill="none" stroke="#c2823c" stroke-width="1.05"/>
<circle cx="323.7" cy="369.0" r="2.60" fill="none" stroke="#c2823c" stroke-width="1.05"/>
<circle cx="326.6" cy="369.0" r="2.60" fill="none" stroke="#c2823c" stroke-width="1.05"/>
<circle cx="343.0" cy="365.7" r="2.60" fill="none" stroke="#c2823c" stroke-width="1.05"/>
<circle cx="343.0" cy="369.0" r="2.60" fill="none" stroke="#c2823c" stroke-width="1.05"/>
<circle cx="352.7" cy="365.7" r="2.60" fill="none" stroke="#c2823c" stroke-width="1.05"/>
<circle cx="330.4" cy="365.7" r="2.60" fill="none" stroke="#c2823c" stroke-width="1.05"/>
<circle cx="333.3" cy="363.8" r="2.60" fill="none" stroke="#c2823c" stroke-width="1.05"/>
<circle cx="335.3" cy="363.8" r="2.60" fill="none" stroke="#c2823c" stroke-width="1.05"/>
<circle cx="365.3" cy="359.9" r="2.60" fill="none" stroke="#ee1c1c" stroke-width="1.05"/>
<circle cx="367.8" cy="357.4" r="2.60" fill="none" stroke="#ee1c1c" stroke-width="1.05"/>
<circle cx="369.1" cy="338.7" r="2.60" fill="none" stroke="#ec6ef0" stroke-width="1.05"/>
<circle cx="370.1" cy="348.9" r="2.60" fill="none" stroke="#ec6ef0" stroke-width="1.05"/>
<circle cx="372.0" cy="369.0" r="2.60" fill="none" stroke="#ec6ef0" stroke-width="1.05"/>
<circle cx="375.5" cy="369.0" r="2.60" fill="none" stroke="#ec6ef0" stroke-width="1.05"/>
<circle cx="373.0" cy="358.6" r="2.60" fill="none" stroke="#ec6ef0" stroke-width="1.05"/>
<circle cx="386.0" cy="341.2" r="2.60" fill="none" stroke="#f99d14" stroke-width="1.05"/>
<circle cx="391.8" cy="345.0" r="2.60" fill="none" stroke="#f99d14" stroke-width="1.05"/>
<circle cx="411.7" cy="348.3" r="2.60" fill="none" stroke="#f99d14" stroke-width="1.05"/>
<circle cx="412.6" cy="344.5" r="2.60" fill="none" stroke="#f99d14" stroke-width="1.05"/>
<circle cx="401.0" cy="358.6" r="2.60" fill="none" stroke="#f99d14" stroke-width="1.05"/>
<circle cx="404.5" cy="358.6" r="2.60" fill="none" stroke="#f99d14" stroke-width="1.05"/>
<circle cx="406.5" cy="369.0" r="2.60" fill="none" stroke="#f99d14" stroke-width="1.05"/>
<circle cx="414.3" cy="344.5" r="2.60" fill="none" stroke="#f99d14" stroke-width="1.05"/>
<circle cx="456.5" cy="338.7" r="2.60" fill="none" stroke="#f99d14" stroke-width="1.05"/>
<circle cx="462.7" cy="348.9" r="2.60" fill="none" stroke="#f99d14" stroke-width="1.05"/>
<circle cx="438.7" cy="348.9" r="2.60" fill="none" stroke="#f99d14" stroke-width="1.05"/>
<circle cx="439.5" cy="351.2" r="2.60" fill="none" stroke="#f99d14" stroke-width="1.05"/>
<circle cx="416.8" cy="359.9" r="2.60" fill="none" stroke="#f99d14" stroke-width="1.05"/>
<circle cx="461.3" cy="358.6" r="2.60" fill="none" stroke="#f99d14" stroke-width="1.05"/>
<circle cx="469.1" cy="358.6" r="2.60" fill="none" stroke="#f99d14" stroke-width="1.05"/>
<circle cx="474.3" cy="351.2" r="2.60" fill="none" stroke="#f99d14" stroke-width="1.05"/>
<circle cx="473.5" cy="358.6" r="2.60" fill="none" stroke="#f99d14" stroke-width="1.05"/>
<circle cx="477.4" cy="354.7" r="2.60" fill="none" stroke="#f99d14" stroke-width="1.05"/>
<circle cx="467.1" cy="363.8" r="2.60" fill="none" stroke="#f99d14" stroke-width="1.05"/>
<circle cx="466.2" cy="367.7" r="2.60" fill="none" stroke="#f99d14" stroke-width="1.05"/>
<circle cx="485.9" cy="338.7" r="2.60" fill="none" stroke="#ee5fb2" stroke-width="1.05"/>
<circle cx="484.5" cy="348.9" r="2.60" fill="none" stroke="#ee5fb2" stroke-width="1.05"/>
<circle cx="487.4" cy="358.6" r="2.60" fill="none" stroke="#ee5fb2" stroke-width="1.05"/>
<path d="M57.5 94.1L64.2 94.1L60.8 99.7Z" fill="none" stroke="#1864ec" stroke-width="1.15" stroke-linejoin="miter"/>
<path d="M70.4 93.7L77.1 93.7L73.8 99.3Z" fill="none" stroke="#1864ec" stroke-width="1.15" stroke-linejoin="miter"/>
<path d="M69.5 104.0L76.2 104.0L72.8 109.6Z" fill="none" stroke="#1864ec" stroke-width="1.15" stroke-linejoin="miter"/>
<path d="M61.6 110.2L68.3 110.2L65.0 115.8Z" fill="none" stroke="#1864ec" stroke-width="1.15" stroke-linejoin="miter"/>
<path d="M84.4 91.4L91.1 91.4L87.7 97.0Z" fill="none" stroke="#5069c4" stroke-width="1.15" stroke-linejoin="miter"/>
<path d="M86.3 95.9L93.0 95.9L89.6 101.5Z" fill="none" stroke="#5069c4" stroke-width="1.15" stroke-linejoin="miter"/>
<path d="M90.4 97.4L97.1 97.4L93.7 103.0Z" fill="none" stroke="#5069c4" stroke-width="1.15" stroke-linejoin="miter"/>
<path d="M98.8 95.9L105.5 95.9L102.2 101.5Z" fill="none" stroke="#5069c4" stroke-width="1.15" stroke-linejoin="miter"/>
<path d="M86.6 104.9L93.3 104.9L90.0 110.5Z" fill="none" stroke="#5069c4" stroke-width="1.15" stroke-linejoin="miter"/>
<path d="M91.9 110.9L98.6 110.9L95.2 116.5Z" fill="none" stroke="#5069c4" stroke-width="1.15" stroke-linejoin="miter"/>
<path d="M102.6 107.7L109.3 107.7L105.9 113.3Z" fill="none" stroke="#5069c4" stroke-width="1.15" stroke-linejoin="miter"/>
<path d="M111.0 106.4L117.7 106.4L114.3 112.0Z" fill="none" stroke="#5069c4" stroke-width="1.15" stroke-linejoin="miter"/>
<path d="M113.8 110.6L120.5 110.6L117.2 116.2Z" fill="none" stroke="#5069c4" stroke-width="1.15" stroke-linejoin="miter"/>
<path d="M129.7 92.8L136.4 92.8L133.1 98.4Z" fill="none" stroke="#5069c4" stroke-width="1.15" stroke-linejoin="miter"/>
<path d="M128.4 99.7L135.1 99.7L131.8 105.3Z" fill="none" stroke="#5069c4" stroke-width="1.15" stroke-linejoin="miter"/>
<path d="M155.5 82.5L162.2 82.5L158.9 88.1Z" fill="none" stroke="#5069c4" stroke-width="1.15" stroke-linejoin="miter"/>
<path d="M149.7 93.5L156.4 93.5L153.1 99.1Z" fill="none" stroke="#5069c4" stroke-width="1.15" stroke-linejoin="miter"/>
<path d="M167.1 93.5L173.8 93.5L170.5 99.1Z" fill="none" stroke="#5069c4" stroke-width="1.15" stroke-linejoin="miter"/>
<path d="M170.4 93.5L177.1 93.5L173.8 99.1Z" fill="none" stroke="#5069c4" stroke-width="1.15" stroke-linejoin="miter"/>
<path d="M138.9 106.3L145.6 106.3L142.3 111.9Z" fill="none" stroke="#5069c4" stroke-width="1.15" stroke-linejoin="miter"/>
<path d="M203.9 96.0L210.6 96.0L207.2 101.6Z" fill="none" stroke="#20c8b6" stroke-width="1.15" stroke-linejoin="miter"/>
<path d="M205.2 109.0L211.9 109.0L208.6 114.6Z" fill="none" stroke="#20c8b6" stroke-width="1.15" stroke-linejoin="miter"/>
<path d="M191.7 106.3L198.4 106.3L195.1 111.9Z" fill="none" stroke="#14a814" stroke-width="1.15" stroke-linejoin="miter"/>
<path d="M207.8 76.7L214.5 76.7L211.1 82.3Z" fill="none" stroke="#c2823c" stroke-width="1.15" stroke-linejoin="miter"/>
<path d="M214.9 76.7L221.6 76.7L218.3 82.3Z" fill="none" stroke="#c2823c" stroke-width="1.15" stroke-linejoin="miter"/>
<path d="M227.1 76.7L233.8 76.7L230.5 82.3Z" fill="none" stroke="#c2823c" stroke-width="1.15" stroke-linejoin="miter"/>
<path d="M232.3 76.7L239.0 76.7L235.7 82.3Z" fill="none" stroke="#c2823c" stroke-width="1.15" stroke-linejoin="miter"/>
<path d="M232.3 104.7L239.0 104.7L235.7 110.3Z" fill="none" stroke="#c2823c" stroke-width="1.15" stroke-linejoin="miter"/>
<path d="M236.1 76.7L242.8 76.7L239.5 82.3Z" fill="none" stroke="#c2823c" stroke-width="1.15" stroke-linejoin="miter"/>
<path d="M252.4 85.7L259.1 85.7L255.7 91.3Z" fill="none" stroke="#c2823c" stroke-width="1.15" stroke-linejoin="miter"/>
<path d="M263.2 85.7L269.9 85.7L266.6 91.3Z" fill="none" stroke="#c2823c" stroke-width="1.15" stroke-linejoin="miter"/>
<path d="M278.7 79.2L285.4 79.2L282.0 84.8Z" fill="none" stroke="#c2823c" stroke-width="1.15" stroke-linejoin="miter"/>
<path d="M294.9 85.0L301.6 85.0L298.3 90.6Z" fill="none" stroke="#c2823c" stroke-width="1.15" stroke-linejoin="miter"/>
<path d="M300.0 85.7L306.7 85.7L303.3 91.3Z" fill="none" stroke="#c2823c" stroke-width="1.15" stroke-linejoin="miter"/>
<path d="M244.6 94.1L251.3 94.1L248.0 99.7Z" fill="none" stroke="#c2823c" stroke-width="1.15" stroke-linejoin="miter"/>
<path d="M233.6 104.3L240.3 104.3L237.0 109.9Z" fill="none" stroke="#c2823c" stroke-width="1.15" stroke-linejoin="miter"/>
<path d="M255.9 104.3L262.6 104.3L259.2 109.9Z" fill="none" stroke="#c2823c" stroke-width="1.15" stroke-linejoin="miter"/>
<path d="M271.3 109.5L278.0 109.5L274.7 115.1Z" fill="none" stroke="#c2823c" stroke-width="1.15" stroke-linejoin="miter"/>
<path d="M286.8 109.5L293.5 109.5L290.2 115.1Z" fill="none" stroke="#c2823c" stroke-width="1.15" stroke-linejoin="miter"/>
<path d="M357.7 102.4L364.4 102.4L361.1 108.0Z" fill="none" stroke="#ee1c1c" stroke-width="1.15" stroke-linejoin="miter"/>
<path d="M370.9 76.7L377.6 76.7L374.2 82.3Z" fill="none" stroke="#f99d14" stroke-width="1.15" stroke-linejoin="miter"/>
<path d="M380.0 76.7L386.7 76.7L383.3 82.3Z" fill="none" stroke="#f99d14" stroke-width="1.15" stroke-linejoin="miter"/>
<path d="M371.7 92.7L378.4 92.7L375.0 98.3Z" fill="none" stroke="#f99d14" stroke-width="1.15" stroke-linejoin="miter"/>
<path d="M387.1 85.7L393.8 85.7L390.5 91.3Z" fill="none" stroke="#f99d14" stroke-width="1.15" stroke-linejoin="miter"/>
<path d="M398.3 91.2L405.0 91.2L401.7 96.8Z" fill="none" stroke="#f99d14" stroke-width="1.15" stroke-linejoin="miter"/>
<path d="M385.8 101.8L392.5 101.8L389.1 107.4Z" fill="none" stroke="#f99d14" stroke-width="1.15" stroke-linejoin="miter"/>
<path d="M410.0 82.5L416.7 82.5L413.3 88.1Z" fill="none" stroke="#f99d14" stroke-width="1.15" stroke-linejoin="miter"/>
<path d="M436.3 79.6L443.0 79.6L439.6 85.2Z" fill="none" stroke="#f99d14" stroke-width="1.15" stroke-linejoin="miter"/>
<path d="M475.1 106.4L481.8 106.4L478.4 112.0Z" fill="none" stroke="#f99d14" stroke-width="1.15" stroke-linejoin="miter"/>
<path d="M55.7 203.0L62.4 203.0L59.1 208.6Z" fill="none" stroke="#1864ec" stroke-width="1.15" stroke-linejoin="miter"/>
<path d="M51.1 211.3L57.8 211.3L54.4 216.9Z" fill="none" stroke="#1864ec" stroke-width="1.15" stroke-linejoin="miter"/>
<path d="M58.2 214.0L64.9 214.0L61.6 219.6Z" fill="none" stroke="#1864ec" stroke-width="1.15" stroke-linejoin="miter"/>
<path d="M68.9 215.6L75.6 215.6L72.2 221.2Z" fill="none" stroke="#1864ec" stroke-width="1.15" stroke-linejoin="miter"/>
<path d="M74.3 215.6L81.0 215.6L77.6 221.2Z" fill="none" stroke="#1864ec" stroke-width="1.15" stroke-linejoin="miter"/>
<path d="M110.5 219.8L117.2 219.8L113.8 225.4Z" fill="none" stroke="#5069c4" stroke-width="1.15" stroke-linejoin="miter"/>
<path d="M166.5 213.6L173.2 213.6L169.8 219.2Z" fill="none" stroke="#5069c4" stroke-width="1.15" stroke-linejoin="miter"/>
<path d="M165.3 219.4L172.0 219.4L168.7 225.0Z" fill="none" stroke="#5069c4" stroke-width="1.15" stroke-linejoin="miter"/>
<path d="M196.3 219.1L203.0 219.1L199.6 224.7Z" fill="none" stroke="#20c8b6" stroke-width="1.15" stroke-linejoin="miter"/>
<path d="M199.8 185.6L206.5 185.6L203.1 191.2Z" fill="none" stroke="#c2823c" stroke-width="1.15" stroke-linejoin="miter"/>
<path d="M205.6 185.6L212.3 185.6L208.9 191.2Z" fill="none" stroke="#c2823c" stroke-width="1.15" stroke-linejoin="miter"/>
<path d="M220.8 185.6L227.5 185.6L224.1 191.2Z" fill="none" stroke="#c2823c" stroke-width="1.15" stroke-linejoin="miter"/>
<path d="M219.4 193.9L226.1 193.9L222.8 199.5Z" fill="none" stroke="#c2823c" stroke-width="1.15" stroke-linejoin="miter"/>
<path d="M229.7 195.3L236.4 195.3L233.0 200.9Z" fill="none" stroke="#c2823c" stroke-width="1.15" stroke-linejoin="miter"/>
<path d="M246.5 194.7L253.2 194.7L249.8 200.3Z" fill="none" stroke="#c2823c" stroke-width="1.15" stroke-linejoin="miter"/>
<path d="M258.1 193.9L264.8 193.9L261.5 199.5Z" fill="none" stroke="#c2823c" stroke-width="1.15" stroke-linejoin="miter"/>
<path d="M290.0 192.4L296.7 192.4L293.4 198.0Z" fill="none" stroke="#c2823c" stroke-width="1.15" stroke-linejoin="miter"/>
<path d="M295.4 192.4L302.1 192.4L298.8 198.0Z" fill="none" stroke="#c2823c" stroke-width="1.15" stroke-linejoin="miter"/>
<path d="M292.9 211.3L299.6 211.3L296.3 216.9Z" fill="none" stroke="#c2823c" stroke-width="1.15" stroke-linejoin="miter"/>
<path d="M272.2 219.8L278.9 219.8L275.6 225.4Z" fill="none" stroke="#c2823c" stroke-width="1.15" stroke-linejoin="miter"/>
<path d="M368.3 185.6L375.0 185.6L371.6 191.2Z" fill="none" stroke="#f99d14" stroke-width="1.15" stroke-linejoin="miter"/>
<path d="M383.8 193.3L390.5 193.3L387.1 198.9Z" fill="none" stroke="#f99d14" stroke-width="1.15" stroke-linejoin="miter"/>
<path d="M396.1 194.7L402.8 194.7L399.5 200.3Z" fill="none" stroke="#f99d14" stroke-width="1.15" stroke-linejoin="miter"/>
<path d="M385.1 208.2L391.8 208.2L388.5 213.8Z" fill="none" stroke="#f99d14" stroke-width="1.15" stroke-linejoin="miter"/>
<path d="M376.8 214.6L383.5 214.6L380.2 220.2Z" fill="none" stroke="#f99d14" stroke-width="1.15" stroke-linejoin="miter"/>
<path d="M407.7 216.5L414.4 216.5L411.1 222.1Z" fill="none" stroke="#f99d14" stroke-width="1.15" stroke-linejoin="miter"/>
<path d="M400.6 223.3L407.3 223.3L403.9 228.9Z" fill="none" stroke="#f99d14" stroke-width="1.15" stroke-linejoin="miter"/>
<path d="M57.7 312.9L64.4 312.9L61.0 318.5Z" fill="none" stroke="#1864ec" stroke-width="1.15" stroke-linejoin="miter"/>
<path d="M47.2 319.3L53.9 319.3L50.6 324.9Z" fill="none" stroke="#1864ec" stroke-width="1.15" stroke-linejoin="miter"/>
<path d="M48.6 327.8L55.3 327.8L51.9 333.4Z" fill="none" stroke="#1864ec" stroke-width="1.15" stroke-linejoin="miter"/>
<path d="M54.9 327.8L61.6 327.8L58.3 333.4Z" fill="none" stroke="#1864ec" stroke-width="1.15" stroke-linejoin="miter"/>
<path d="M68.9 325.5L75.6 325.5L72.2 331.1Z" fill="none" stroke="#1864ec" stroke-width="1.15" stroke-linejoin="miter"/>
<path d="M74.3 325.5L81.0 325.5L77.6 331.1Z" fill="none" stroke="#1864ec" stroke-width="1.15" stroke-linejoin="miter"/>
<path d="M52.4 332.3L59.1 332.3L55.8 337.9Z" fill="none" stroke="#1864ec" stroke-width="1.15" stroke-linejoin="miter"/>
<path d="M84.7 312.4L91.4 312.4L88.1 318.0Z" fill="none" stroke="#5069c4" stroke-width="1.15" stroke-linejoin="miter"/>
<path d="M91.1 312.4L97.8 312.4L94.5 318.0Z" fill="none" stroke="#5069c4" stroke-width="1.15" stroke-linejoin="miter"/>
<path d="M100.2 309.6L106.9 309.6L103.6 315.2Z" fill="none" stroke="#5069c4" stroke-width="1.15" stroke-linejoin="miter"/>
<path d="M113.0 309.6L119.7 309.6L116.3 315.2Z" fill="none" stroke="#5069c4" stroke-width="1.15" stroke-linejoin="miter"/>
<path d="M113.0 316.8L119.7 316.8L116.3 322.4Z" fill="none" stroke="#5069c4" stroke-width="1.15" stroke-linejoin="miter"/>
<path d="M85.3 324.5L92.0 324.5L88.7 330.1Z" fill="none" stroke="#5069c4" stroke-width="1.15" stroke-linejoin="miter"/>
<path d="M92.1 324.5L98.8 324.5L95.4 330.1Z" fill="none" stroke="#5069c4" stroke-width="1.15" stroke-linejoin="miter"/>
<path d="M86.7 330.3L93.4 330.3L90.0 335.9Z" fill="none" stroke="#5069c4" stroke-width="1.15" stroke-linejoin="miter"/>
<path d="M104.1 330.3L110.8 330.3L107.4 335.9Z" fill="none" stroke="#5069c4" stroke-width="1.15" stroke-linejoin="miter"/>
<path d="M153.7 303.8L160.4 303.8L157.1 309.4Z" fill="none" stroke="#5069c4" stroke-width="1.15" stroke-linejoin="miter"/>
<path d="M129.7 312.9L136.4 312.9L133.1 318.5Z" fill="none" stroke="#5069c4" stroke-width="1.15" stroke-linejoin="miter"/>
<path d="M147.5 319.3L154.2 319.3L150.9 324.9Z" fill="none" stroke="#5069c4" stroke-width="1.15" stroke-linejoin="miter"/>
<path d="M138.2 325.5L144.9 325.5L141.6 331.1Z" fill="none" stroke="#5069c4" stroke-width="1.15" stroke-linejoin="miter"/>
<path d="M128.6 327.8L135.3 327.8L131.9 333.4Z" fill="none" stroke="#5069c4" stroke-width="1.15" stroke-linejoin="miter"/>
<path d="M166.5 313.5L173.2 313.5L169.8 319.1Z" fill="none" stroke="#5069c4" stroke-width="1.15" stroke-linejoin="miter"/>
<path d="M164.9 325.5L171.6 325.5L168.3 331.1Z" fill="none" stroke="#5069c4" stroke-width="1.15" stroke-linejoin="miter"/>
<path d="M169.8 324.5L176.5 324.5L173.1 330.1Z" fill="none" stroke="#5069c4" stroke-width="1.15" stroke-linejoin="miter"/>
<path d="M115.6 309.6L122.3 309.6L119.0 315.2Z" fill="none" stroke="#5069c4" stroke-width="1.15" stroke-linejoin="miter"/>
<path d="M115.6 314.9L122.3 314.9L119.0 320.5Z" fill="none" stroke="#5069c4" stroke-width="1.15" stroke-linejoin="miter"/>
<path d="M202.1 313.5L208.8 313.5L205.4 319.1Z" fill="none" stroke="#20c8b6" stroke-width="1.15" stroke-linejoin="miter"/>
<path d="M204.6 296.1L211.3 296.1L207.9 301.7Z" fill="none" stroke="#c2823c" stroke-width="1.15" stroke-linejoin="miter"/>
<path d="M211.0 296.1L217.7 296.1L214.3 301.7Z" fill="none" stroke="#c2823c" stroke-width="1.15" stroke-linejoin="miter"/>
<path d="M213.6 296.1L220.3 296.1L217.0 301.7Z" fill="none" stroke="#c2823c" stroke-width="1.15" stroke-linejoin="miter"/>
<path d="M227.2 296.1L233.9 296.1L230.5 301.7Z" fill="none" stroke="#c2823c" stroke-width="1.15" stroke-linejoin="miter"/>
<path d="M236.2 296.1L242.9 296.1L239.6 301.7Z" fill="none" stroke="#c2823c" stroke-width="1.15" stroke-linejoin="miter"/>
<path d="M225.8 305.8L232.5 305.8L229.2 311.4Z" fill="none" stroke="#c2823c" stroke-width="1.15" stroke-linejoin="miter"/>
<path d="M253.7 304.2L260.4 304.2L257.0 309.8Z" fill="none" stroke="#c2823c" stroke-width="1.15" stroke-linejoin="miter"/>
<path d="M264.9 301.9L271.6 301.9L268.2 307.5Z" fill="none" stroke="#c2823c" stroke-width="1.15" stroke-linejoin="miter"/>
<path d="M224.6 326.5L231.3 326.5L228.0 332.1Z" fill="none" stroke="#c2823c" stroke-width="1.15" stroke-linejoin="miter"/>
<path d="M278.4 322.0L285.1 322.0L281.8 327.6Z" fill="none" stroke="#c2823c" stroke-width="1.15" stroke-linejoin="miter"/>
<path d="M296.2 305.2L302.9 305.2L299.6 310.8Z" fill="none" stroke="#c2823c" stroke-width="1.15" stroke-linejoin="miter"/>
<path d="M299.3 305.2L306.0 305.2L302.7 310.8Z" fill="none" stroke="#c2823c" stroke-width="1.15" stroke-linejoin="miter"/>
<path d="M302.0 305.2L308.7 305.2L305.4 310.8Z" fill="none" stroke="#c2823c" stroke-width="1.15" stroke-linejoin="miter"/>
<path d="M352.2 320.7L358.9 320.7L355.6 326.3Z" fill="none" stroke="#c2823c" stroke-width="1.15" stroke-linejoin="miter"/>
<path d="M391.5 296.1L398.2 296.1L394.9 301.7Z" fill="none" stroke="#f99d14" stroke-width="1.15" stroke-linejoin="miter"/>
<path d="M392.9 304.2L399.6 304.2L396.2 309.8Z" fill="none" stroke="#f99d14" stroke-width="1.15" stroke-linejoin="miter"/>
<path d="M404.5 305.8L411.2 305.8L407.8 311.4Z" fill="none" stroke="#f99d14" stroke-width="1.15" stroke-linejoin="miter"/>
<path d="M383.8 312.4L390.5 312.4L387.1 318.0Z" fill="none" stroke="#f99d14" stroke-width="1.15" stroke-linejoin="miter"/>
<path d="M374.5 324.0L381.2 324.0L377.8 329.6Z" fill="none" stroke="#f99d14" stroke-width="1.15" stroke-linejoin="miter"/>
<path d="M376.0 329.8L382.7 329.8L379.4 335.4Z" fill="none" stroke="#f99d14" stroke-width="1.15" stroke-linejoin="miter"/>
<path d="M414.5 312.0L421.2 312.0L417.8 317.6Z" fill="none" stroke="#f99d14" stroke-width="1.15" stroke-linejoin="miter"/>
<path d="M437.7 316.8L444.4 316.8L441.0 322.4Z" fill="none" stroke="#f99d14" stroke-width="1.15" stroke-linejoin="miter"/>
</g>
<text x="2.5" y="410.2" font-family="Liberation Serif, serif" font-size="9.8" font-weight="bold" fill="#111" stroke="#111" stroke-width="0.22">B</text>
<text x="262.4" y="387.1" font-family="Liberation Serif, serif" font-size="9.8" fill="#111" stroke="#111" stroke-width="0.22" text-anchor="middle">OTUs</text>
<text x="70" y="422.1" font-family="Liberation Serif, serif" font-size="9.6" fill="#111" stroke="#111" stroke-width="0.22" text-anchor="middle">Blautia</text>
<line x1="31.0" y1="427.8" x2="31.0" y2="531.6" stroke="#333" stroke-width="1"/>
<line x1="30.5" y1="531.0" x2="108" y2="531.0" stroke="#333" stroke-width="1"/>
<line x1="29.0" y1="531.0" x2="31.0" y2="531.0" stroke="#333" stroke-width="0.8"/>
<text x="28.2" y="533.9" font-family="Liberation Serif, serif" font-size="8.3" fill="#222" stroke="#222" stroke-width="0.22" text-anchor="end">0</text>
<line x1="29.0" y1="505.3" x2="31.0" y2="505.3" stroke="#333" stroke-width="0.8"/>
<text x="28.2" y="508.2" font-family="Liberation Serif, serif" font-size="8.3" fill="#222" stroke="#222" stroke-width="0.22" text-anchor="end">10</text>
<line x1="29.0" y1="479.6" x2="31.0" y2="479.6" stroke="#333" stroke-width="0.8"/>
<text x="28.2" y="482.5" font-family="Liberation Serif, serif" font-size="8.3" fill="#222" stroke="#222" stroke-width="0.22" text-anchor="end">20</text>
<line x1="29.0" y1="454.0" x2="31.0" y2="454.0" stroke="#333" stroke-width="0.8"/>
<text x="28.2" y="456.9" font-family="Liberation Serif, serif" font-size="8.3" fill="#222" stroke="#222" stroke-width="0.22" text-anchor="end">30</text>
<line x1="29.0" y1="428.3" x2="31.0" y2="428.3" stroke="#333" stroke-width="0.8"/>
<text x="28.2" y="431.2" font-family="Liberation Serif, serif" font-size="8.3" fill="#222" stroke="#222" stroke-width="0.22" text-anchor="end">40</text>
<text transform="translate(13.2 480.4) scale(1 1.075) rotate(-90)" font-family="Liberation Serif, serif" font-size="9.5" fill="#1a1a1a" stroke="#1a1a1a" stroke-width="0.22" text-anchor="middle">Relative abundance(%)</text>
<line x1="48.3" y1="437.0" x2="48.3" y2="523.3" stroke="#222" stroke-width="0.8"/>
<line x1="44.9" y1="437.0" x2="51.7" y2="437.0" stroke="#222" stroke-width="0.8"/>
<line x1="44.9" y1="523.3" x2="51.7" y2="523.3" stroke="#222" stroke-width="0.8"/>
<rect x="42.6" y="457.3" width="11.4" height="58.3" fill="#1f63dc" stroke="#222" stroke-width="0.8"/>
<line x1="42.6" y1="502.8" x2="54.0" y2="502.8" stroke="#111" stroke-width="1"/>
<rect x="57.5" y="530.1" width="8.0" height="0.9" fill="#333" stroke="#222" stroke-width="0.7"/>
<rect x="74.0" y="529.5" width="8.0" height="1.3" fill="#333" stroke="#222" stroke-width="0.7"/>
<rect x="89.5" y="530.1" width="8.5" height="0.9" fill="#333" stroke="#222" stroke-width="0.7"/>
<text x="48.4" y="433.9" font-family="Liberation Serif, serif" font-size="8.8" fill="#1a1a1a" stroke="#1a1a1a" stroke-width="0.22" text-anchor="middle">a</text>
<text x="62.4" y="527.4" font-family="Liberation Serif, serif" font-size="8.8" fill="#1a1a1a" stroke="#1a1a1a" stroke-width="0.22" text-anchor="middle">b</text>
<text x="79.4" y="527.4" font-family="Liberation Serif, serif" font-size="8.8" fill="#1a1a1a" stroke="#1a1a1a" stroke-width="0.22" text-anchor="middle">b</text>
<text x="95.5" y="527.4" font-family="Liberation Serif, serif" font-size="8.8" fill="#1a1a1a" stroke="#1a1a1a" stroke-width="0.22" text-anchor="middle">b</text>
<text x="49.2" y="540.8" font-family="Liberation Serif, serif" font-size="8.5" fill="#111" stroke="#111" stroke-width="0.22" text-anchor="middle">NC</text>
<text x="63.5" y="540.8" font-family="Liberation Serif, serif" font-size="8.5" fill="#111" stroke="#111" stroke-width="0.22" text-anchor="middle">MC</text>
<text x="78.4" y="540.8" font-family="Liberation Serif, serif" font-size="8.5" fill="#111" stroke="#111" stroke-width="0.22" text-anchor="middle">ST</text>
<text x="93.6" y="540.8" font-family="Liberation Serif, serif" font-size="8.5" fill="#111" stroke="#111" stroke-width="0.22" text-anchor="middle">YT</text>
<text x="207.1" y="422.0" font-family="Liberation Serif, serif" font-size="9.6" fill="#111" stroke="#111" stroke-width="0.22" text-anchor="middle">Robinsoniella</text>
<line x1="167.5" y1="427.7" x2="167.5" y2="531.7" stroke="#333" stroke-width="1"/>
<line x1="167.0" y1="531.1" x2="246.9" y2="531.1" stroke="#333" stroke-width="1"/>
<line x1="165.5" y1="531.1" x2="167.5" y2="531.1" stroke="#333" stroke-width="0.8"/>
<text x="163.5" y="534.0" font-family="Liberation Serif, serif" font-size="8.3" fill="#222" stroke="#222" stroke-width="0.22" text-anchor="end">0</text>
<line x1="165.5" y1="510.5" x2="167.5" y2="510.5" stroke="#333" stroke-width="0.8"/>
<text x="163.5" y="513.4" font-family="Liberation Serif, serif" font-size="8.3" fill="#222" stroke="#222" stroke-width="0.22" text-anchor="end">1</text>
<line x1="165.5" y1="489.9" x2="167.5" y2="489.9" stroke="#333" stroke-width="0.8"/>
<text x="163.5" y="492.8" font-family="Liberation Serif, serif" font-size="8.3" fill="#222" stroke="#222" stroke-width="0.22" text-anchor="end">2</text>
<line x1="165.5" y1="469.4" x2="167.5" y2="469.4" stroke="#333" stroke-width="0.8"/>
<text x="163.5" y="472.3" font-family="Liberation Serif, serif" font-size="8.3" fill="#222" stroke="#222" stroke-width="0.22" text-anchor="end">3</text>
<line x1="165.5" y1="448.8" x2="167.5" y2="448.8" stroke="#333" stroke-width="0.8"/>
<text x="163.5" y="451.7" font-family="Liberation Serif, serif" font-size="8.3" fill="#222" stroke="#222" stroke-width="0.22" text-anchor="end">4</text>
<line x1="165.5" y1="428.2" x2="167.5" y2="428.2" stroke="#333" stroke-width="0.8"/>
<text x="163.5" y="431.1" font-family="Liberation Serif, serif" font-size="8.3" fill="#222" stroke="#222" stroke-width="0.22" text-anchor="end">5</text>
<text transform="translate(147.2 480.4) scale(1 1.075) rotate(-90)" font-family="Liberation Serif, serif" font-size="9.5" fill="#1a1a1a" stroke="#1a1a1a" stroke-width="0.22" text-anchor="middle">Relative abundance(%)</text>
<line x1="184.2" y1="437.5" x2="184.2" y2="519.8" stroke="#222" stroke-width="0.8"/>
<line x1="180.9" y1="437.5" x2="187.6" y2="437.5" stroke="#222" stroke-width="0.8"/>
<line x1="180.9" y1="519.8" x2="187.6" y2="519.8" stroke="#222" stroke-width="0.8"/>
<rect x="178.6" y="437.5" width="11.3" height="52.5" fill="#1f63dc" stroke="#222" stroke-width="0.8"/>
<line x1="178.6" y1="469.4" x2="189.9" y2="469.4" stroke="#111" stroke-width="1"/>
<rect x="193.0" y="530.1" width="9.5" height="1.0" fill="#333" stroke="#222" stroke-width="0.7"/>
<rect x="207.5" y="529.9" width="9.5" height="1.2" fill="#6a4a2a" stroke="#222" stroke-width="0.7"/>
<rect x="222.5" y="530.3" width="9.5" height="0.9" fill="#333" stroke="#222" stroke-width="0.7"/>
<text x="184.6" y="433.0" font-family="Liberation Serif, serif" font-size="8.8" fill="#1a1a1a" stroke="#1a1a1a" stroke-width="0.22" text-anchor="middle">a</text>
<text x="197.8" y="528.8" font-family="Liberation Serif, serif" font-size="8.8" fill="#1a1a1a" stroke="#1a1a1a" stroke-width="0.22" text-anchor="middle">b</text>
<text x="212.3" y="528.8" font-family="Liberation Serif, serif" font-size="8.8" fill="#1a1a1a" stroke="#1a1a1a" stroke-width="0.22" text-anchor="middle">b</text>
<text x="226.9" y="528.8" font-family="Liberation Serif, serif" font-size="8.8" fill="#1a1a1a" stroke="#1a1a1a" stroke-width="0.22" text-anchor="middle">b</text>
<text x="183.1" y="540.8" font-family="Liberation Serif, serif" font-size="8.5" fill="#111" stroke="#111" stroke-width="0.22" text-anchor="middle">NC</text>
<text x="197.4" y="540.8" font-family="Liberation Serif, serif" font-size="8.5" fill="#111" stroke="#111" stroke-width="0.22" text-anchor="middle">MC</text>
<text x="212.6" y="540.8" font-family="Liberation Serif, serif" font-size="8.5" fill="#111" stroke="#111" stroke-width="0.22" text-anchor="middle">ST</text>
<text x="227.2" y="540.8" font-family="Liberation Serif, serif" font-size="8.5" fill="#111" stroke="#111" stroke-width="0.22" text-anchor="middle">YT</text>
<text x="338.4" y="422.5" font-family="Liberation Serif, serif" font-size="9.6" fill="#111" stroke="#111" stroke-width="0.22" text-anchor="middle">Proteus</text>
<line x1="300.9" y1="428.2" x2="300.9" y2="532.2" stroke="#333" stroke-width="1"/>
<line x1="300.4" y1="531.6" x2="377.7" y2="531.6" stroke="#333" stroke-width="1"/>
<line x1="298.9" y1="531.6" x2="300.9" y2="531.6" stroke="#333" stroke-width="0.8"/>
<text x="298.5" y="534.5" font-family="Liberation Serif, serif" font-size="8.3" fill="#222" stroke="#222" stroke-width="0.22" text-anchor="end">0.0</text>
<line x1="298.9" y1="505.9" x2="300.9" y2="505.9" stroke="#333" stroke-width="0.8"/>
<text x="298.5" y="508.8" font-family="Liberation Serif, serif" font-size="8.3" fill="#222" stroke="#222" stroke-width="0.22" text-anchor="end">0.5</text>
<line x1="298.9" y1="480.1" x2="300.9" y2="480.1" stroke="#333" stroke-width="0.8"/>
<text x="298.5" y="483.0" font-family="Liberation Serif, serif" font-size="8.3" fill="#222" stroke="#222" stroke-width="0.22" text-anchor="end">1.0</text>
<line x1="298.9" y1="454.4" x2="300.9" y2="454.4" stroke="#333" stroke-width="0.8"/>
<text x="298.5" y="457.3" font-family="Liberation Serif, serif" font-size="8.3" fill="#222" stroke="#222" stroke-width="0.22" text-anchor="end">1.5</text>
<line x1="298.9" y1="428.7" x2="300.9" y2="428.7" stroke="#333" stroke-width="0.8"/>
<text x="298.5" y="431.6" font-family="Liberation Serif, serif" font-size="8.3" fill="#222" stroke="#222" stroke-width="0.22" text-anchor="end">2.0</text>
<text transform="translate(281.0 480.9) scale(1 1.075) rotate(-90)" font-family="Liberation Serif, serif" font-size="9.5" fill="#1a1a1a" stroke="#1a1a1a" stroke-width="0.22" text-anchor="middle">Relative abundance(%)</text>
<line x1="320.5" y1="440.5" x2="320.5" y2="521.3" stroke="#222" stroke-width="0.8"/>
<line x1="317.5" y1="440.5" x2="323.6" y2="440.5" stroke="#222" stroke-width="0.8"/>
<line x1="317.5" y1="521.3" x2="323.6" y2="521.3" stroke="#222" stroke-width="0.8"/>
<rect x="315.4" y="475.5" width="10.3" height="32.9" fill="#1f63dc" stroke="#222" stroke-width="0.8"/>
<line x1="315.4" y1="494.6" x2="325.7" y2="494.6" stroke="#111" stroke-width="1"/>
<rect x="329.5" y="529.8" width="9.0" height="1.8" fill="#333" stroke="#222" stroke-width="0.7"/>
<rect x="343.0" y="530.1" width="10.0" height="1.5" fill="#333" stroke="#222" stroke-width="0.7"/>
<rect x="355.4" y="528.5" width="10.4" height="3.1" fill="#c07a20" stroke="#222" stroke-width="0.7"/>
<text x="320.4" y="437.4" font-family="Liberation Serif, serif" font-size="8.8" fill="#1a1a1a" stroke="#1a1a1a" stroke-width="0.22" text-anchor="middle">a</text>
<text x="333.9" y="527.4" font-family="Liberation Serif, serif" font-size="8.8" fill="#1a1a1a" stroke="#1a1a1a" stroke-width="0.22" text-anchor="middle">b</text>
<text x="347.6" y="527.4" font-family="Liberation Serif, serif" font-size="8.8" fill="#1a1a1a" stroke="#1a1a1a" stroke-width="0.22" text-anchor="middle">b</text>
<text x="361.3" y="527.4" font-family="Liberation Serif, serif" font-size="8.8" fill="#1a1a1a" stroke="#1a1a1a" stroke-width="0.22" text-anchor="middle">b</text>
<text x="318.2" y="540.8" font-family="Liberation Serif, serif" font-size="8.5" fill="#111" stroke="#111" stroke-width="0.22" text-anchor="middle">NC</text>
<text x="332.9" y="540.8" font-family="Liberation Serif, serif" font-size="8.5" fill="#111" stroke="#111" stroke-width="0.22" text-anchor="middle">MC</text>
<text x="347.8" y="540.8" font-family="Liberation Serif, serif" font-size="8.5" fill="#111" stroke="#111" stroke-width="0.22" text-anchor="middle">ST</text>
<text x="363.0" y="540.8" font-family="Liberation Serif, serif" font-size="8.5" fill="#111" stroke="#111" stroke-width="0.22" text-anchor="middle">YT</text>
<text x="466.4" y="422.0" font-family="Liberation Serif, serif" font-size="9.6" fill="#111" stroke="#111" stroke-width="0.22" text-anchor="middle">Parasutterella</text>
<line x1="429.0" y1="427.7" x2="429.0" y2="531.6" stroke="#333" stroke-width="1"/>
<line x1="428.5" y1="531.0" x2="505.2" y2="531.0" stroke="#333" stroke-width="1"/>
<line x1="427.0" y1="531.0" x2="429.0" y2="531.0" stroke="#333" stroke-width="0.8"/>
<text x="425.5" y="533.9" font-family="Liberation Serif, serif" font-size="8.3" fill="#222" stroke="#222" stroke-width="0.22" text-anchor="end">0</text>
<line x1="427.0" y1="513.9" x2="429.0" y2="513.9" stroke="#333" stroke-width="0.8"/>
<text x="425.5" y="516.8" font-family="Liberation Serif, serif" font-size="8.3" fill="#222" stroke="#222" stroke-width="0.22" text-anchor="end">2</text>
<line x1="427.0" y1="496.7" x2="429.0" y2="496.7" stroke="#333" stroke-width="0.8"/>
<text x="425.5" y="499.6" font-family="Liberation Serif, serif" font-size="8.3" fill="#222" stroke="#222" stroke-width="0.22" text-anchor="end">4</text>
<line x1="427.0" y1="479.6" x2="429.0" y2="479.6" stroke="#333" stroke-width="0.8"/>
<text x="425.5" y="482.5" font-family="Liberation Serif, serif" font-size="8.3" fill="#222" stroke="#222" stroke-width="0.22" text-anchor="end">6</text>
<line x1="427.0" y1="462.5" x2="429.0" y2="462.5" stroke="#333" stroke-width="0.8"/>
<text x="425.5" y="465.4" font-family="Liberation Serif, serif" font-size="8.3" fill="#222" stroke="#222" stroke-width="0.22" text-anchor="end">8</text>
<line x1="427.0" y1="445.3" x2="429.0" y2="445.3" stroke="#333" stroke-width="0.8"/>
<text x="425.5" y="448.2" font-family="Liberation Serif, serif" font-size="8.3" fill="#222" stroke="#222" stroke-width="0.22" text-anchor="end">10</text>
<line x1="427.0" y1="428.2" x2="429.0" y2="428.2" stroke="#333" stroke-width="0.8"/>
<text x="425.5" y="431.1" font-family="Liberation Serif, serif" font-size="8.3" fill="#222" stroke="#222" stroke-width="0.22" text-anchor="end">12</text>
<text transform="translate(409.0 480.4) scale(1 1.075) rotate(-90)" font-family="Liberation Serif, serif" font-size="9.5" fill="#1a1a1a" stroke="#1a1a1a" stroke-width="0.22" text-anchor="middle">Relative abundance(%)</text>
<line x1="445.0" y1="434.2" x2="445.0" y2="522.4" stroke="#222" stroke-width="0.8"/>
<line x1="442.3" y1="434.2" x2="447.6" y2="434.2" stroke="#222" stroke-width="0.8"/>
<line x1="442.3" y1="522.4" x2="447.6" y2="522.4" stroke="#222" stroke-width="0.8"/>
<rect x="440.6" y="468.5" width="8.7" height="48.8" fill="#1f63dc" stroke="#222" stroke-width="0.8"/>
<line x1="440.6" y1="484.7" x2="449.3" y2="484.7" stroke="#111" stroke-width="1"/>
<rect x="454.6" y="526.5" width="9.0" height="4.5" fill="#5a6aa0" stroke="#222" stroke-width="0.7"/>
<rect x="470.9" y="525.2" width="9.1" height="2.2" fill="#a0622a" stroke="#222" stroke-width="0.7"/>
<rect x="485.4" y="530.0" width="9.6" height="1.0" fill="#222" stroke="#222" stroke-width="0.7"/>
<text x="444.5" y="431.3" font-family="Liberation Serif, serif" font-size="8.8" fill="#1a1a1a" stroke="#1a1a1a" stroke-width="0.22" text-anchor="middle">a</text>
<text x="459" y="524.0" font-family="Liberation Serif, serif" font-size="8.8" fill="#1a1a1a" stroke="#1a1a1a" stroke-width="0.22" text-anchor="middle">b</text>
<text x="475.8" y="521.9" font-family="Liberation Serif, serif" font-size="8.8" fill="#1a1a1a" stroke="#1a1a1a" stroke-width="0.22" text-anchor="middle">ab</text>
<text x="490.7" y="526.2" font-family="Liberation Serif, serif" font-size="8.8" fill="#1a1a1a" stroke="#1a1a1a" stroke-width="0.22" text-anchor="middle">b</text>
<text x="444.8" y="540.8" font-family="Liberation Serif, serif" font-size="8.5" fill="#111" stroke="#111" stroke-width="0.22" text-anchor="middle">NC</text>
<text x="459.3" y="540.8" font-family="Liberation Serif, serif" font-size="8.5" fill="#111" stroke="#111" stroke-width="0.22" text-anchor="middle">MC</text>
<text x="475.6" y="540.8" font-family="Liberation Serif, serif" font-size="8.5" fill="#111" stroke="#111" stroke-width="0.22" text-anchor="middle">ST</text>
<text x="490.4" y="540.8" font-family="Liberation Serif, serif" font-size="8.5" fill="#111" stroke="#111" stroke-width="0.22" text-anchor="middle">YT</text>
</svg>
</body></html>
